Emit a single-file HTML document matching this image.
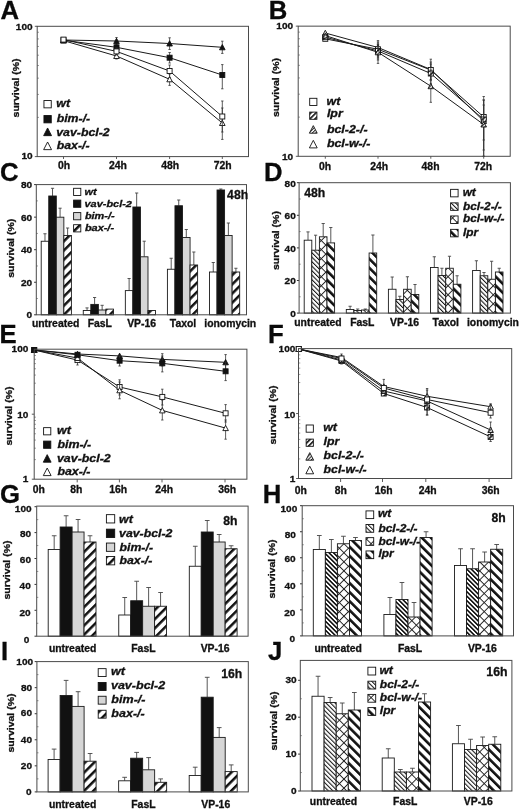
<!DOCTYPE html>
<html><head><meta charset="utf-8"><style>
html,body{margin:0;padding:0;background:#fff;width:520px;height:810px;overflow:hidden}
svg{display:block;filter:grayscale(1)}
text{font-family:"Liberation Sans",sans-serif}
</style></head><body>
<svg width="520" height="810" viewBox="0 0 520 810" font-family="Liberation Sans, sans-serif">

<defs>
<pattern id="baxP" patternUnits="userSpaceOnUse" width="6.5" height="6.5" patternTransform="rotate(45)">
  <rect x="0" y="0" width="6.5" height="6.5" fill="#fff"/><rect x="0" y="0" width="2.5" height="6.5" fill="#111"/></pattern>
<pattern id="lprP" patternUnits="userSpaceOnUse" width="6.4" height="6.4" patternTransform="rotate(-45)">
  <rect x="0" y="0" width="6.4" height="6.4" fill="#fff"/><rect x="0" y="0" width="2.6" height="6.4" fill="#111"/></pattern>
<pattern id="bcl2P" patternUnits="userSpaceOnUse" width="3.18" height="3.18" patternTransform="rotate(-45)">
  <rect x="0" y="0" width="3.18" height="3.18" fill="#fff"/><rect x="0" y="0" width="1.05" height="3.18" fill="#151515"/></pattern>
<pattern id="bcl2H" patternUnits="userSpaceOnUse" width="3.18" height="3.18" patternTransform="rotate(-45)">
  <rect x="0" y="0" width="3.18" height="3.18" fill="#fff"/><rect x="0" y="0" width="1.55" height="3.18" fill="#0a0a0a"/></pattern>
<pattern id="bclwP" patternUnits="userSpaceOnUse" width="6.4" height="6.4" patternTransform="rotate(45)">
  <rect x="0" y="0" width="6.4" height="6.4" fill="#fff"/><rect x="0" y="0" width="0.95" height="6.4" fill="#222"/><rect x="0" y="0" width="6.4" height="0.95" fill="#222"/></pattern>
<pattern id="lprS" patternUnits="userSpaceOnUse" width="3.6" height="3.6" patternTransform="rotate(45)">
  <rect x="0" y="0" width="3.6" height="3.6" fill="#fff"/><rect x="0" y="0" width="1.6" height="3.6" fill="#111"/></pattern>
<pattern id="bcl2S" patternUnits="userSpaceOnUse" width="2.4" height="2.4" patternTransform="rotate(45)">
  <rect x="0" y="0" width="2.4" height="2.4" fill="#fff"/><rect x="0" y="0" width="1.0" height="2.4" fill="#222"/></pattern>
</defs>

<rect width="520" height="810" fill="#fff"/>
<text transform="translate(0.48,18.85)" font-size="25.7" font-weight="bold" font-style="normal" fill="#0a0a0a" stroke="#0a0a0a" stroke-width="0.3">A</text>
<text transform="translate(268.70,18.85)" font-size="25.7" font-weight="bold" font-style="normal" fill="#0a0a0a" stroke="#0a0a0a" stroke-width="0.3">B</text>
<text transform="translate(0.07,181.40)" font-size="25.7" font-weight="bold" font-style="normal" fill="#0a0a0a" stroke="#0a0a0a" stroke-width="0.3">C</text>
<text transform="translate(264.10,180.90)" font-size="25.7" font-weight="bold" font-style="normal" fill="#0a0a0a" stroke="#0a0a0a" stroke-width="0.3">D</text>
<text transform="translate(-0.55,342.70)" font-size="25.7" font-weight="bold" font-style="normal" fill="#0a0a0a" stroke="#0a0a0a" stroke-width="0.3">E</text>
<text transform="translate(268.00,342.90)" font-size="25.7" font-weight="bold" font-style="normal" fill="#0a0a0a" stroke="#0a0a0a" stroke-width="0.3">F</text>
<text transform="translate(0.07,502.90)" font-size="25.7" font-weight="bold" font-style="normal" fill="#0a0a0a" stroke="#0a0a0a" stroke-width="0.3">G</text>
<text transform="translate(262.80,502.90)" font-size="25.7" font-weight="bold" font-style="normal" fill="#0a0a0a" stroke="#0a0a0a" stroke-width="0.3">H</text>
<text transform="translate(1.00,659.70)" font-size="25.7" font-weight="bold" font-style="normal" fill="#0a0a0a" stroke="#0a0a0a" stroke-width="0.3">I</text>
<text transform="translate(267.99,660.20)" font-size="25.7" font-weight="bold" font-style="normal" fill="#0a0a0a" stroke="#0a0a0a" stroke-width="0.3">J</text>
<line x1="34.80" y1="26.30" x2="37.20" y2="26.30" stroke="#4a4a4a" stroke-width="0.9" />
<text transform="translate(15.77,29.57) scale(1.030,1)" font-size="9.8" font-weight="bold" font-style="normal" fill="#111" stroke="#111" stroke-width="0.3">100</text>
<line x1="34.80" y1="156.60" x2="37.20" y2="156.60" stroke="#4a4a4a" stroke-width="0.9" />
<text transform="translate(21.38,159.12) scale(1.030,1)" font-size="9.8" font-weight="bold" font-style="normal" fill="#111" stroke="#111" stroke-width="0.3">10</text>
<line x1="37.20" y1="117.38" x2="39.00" y2="117.38" stroke="#777" stroke-width="0.7" />
<line x1="37.20" y1="94.43" x2="39.00" y2="94.43" stroke="#777" stroke-width="0.7" />
<line x1="37.20" y1="78.15" x2="39.00" y2="78.15" stroke="#777" stroke-width="0.7" />
<line x1="37.20" y1="65.52" x2="39.00" y2="65.52" stroke="#777" stroke-width="0.7" />
<line x1="37.20" y1="55.21" x2="39.00" y2="55.21" stroke="#777" stroke-width="0.7" />
<line x1="37.20" y1="46.48" x2="39.00" y2="46.48" stroke="#777" stroke-width="0.7" />
<line x1="37.20" y1="38.93" x2="39.00" y2="38.93" stroke="#777" stroke-width="0.7" />
<line x1="37.20" y1="32.26" x2="39.00" y2="32.26" stroke="#777" stroke-width="0.7" />
<line x1="63.50" y1="156.60" x2="63.50" y2="159.00" stroke="#4a4a4a" stroke-width="0.9" />
<line x1="116.50" y1="156.60" x2="116.50" y2="159.00" stroke="#4a4a4a" stroke-width="0.9" />
<line x1="169.60" y1="156.60" x2="169.60" y2="159.00" stroke="#4a4a4a" stroke-width="0.9" />
<line x1="222.30" y1="156.60" x2="222.30" y2="159.00" stroke="#4a4a4a" stroke-width="0.9" />
<polyline points="63.50,40.60 116.50,56.00 169.60,79.30 222.30,123.00" fill="none" stroke="#1a1a1a" stroke-width="1.0"/>
<polyline points="63.50,40.00 116.50,41.00 169.60,43.50 222.30,47.30" fill="none" stroke="#1a1a1a" stroke-width="1.0"/>
<polyline points="63.50,40.20 116.50,47.30 169.60,57.70 222.30,75.00" fill="none" stroke="#1a1a1a" stroke-width="1.0"/>
<polyline points="63.50,39.60 116.50,51.40 169.60,71.00 222.30,116.50" fill="none" stroke="#1a1a1a" stroke-width="1.0"/>
<line x1="116.50" y1="52.50" x2="116.50" y2="59.00" stroke="#333" stroke-width="0.8" />
<line x1="115.30" y1="52.50" x2="117.70" y2="52.50" stroke="#333" stroke-width="0.8" />
<line x1="115.30" y1="59.00" x2="117.70" y2="59.00" stroke="#333" stroke-width="0.8" />
<line x1="169.60" y1="74.00" x2="169.60" y2="85.40" stroke="#333" stroke-width="0.8" />
<line x1="168.40" y1="74.00" x2="170.80" y2="74.00" stroke="#333" stroke-width="0.8" />
<line x1="168.40" y1="85.40" x2="170.80" y2="85.40" stroke="#333" stroke-width="0.8" />
<line x1="222.30" y1="108.00" x2="222.30" y2="139.40" stroke="#333" stroke-width="0.8" />
<line x1="221.10" y1="108.00" x2="223.50" y2="108.00" stroke="#333" stroke-width="0.8" />
<line x1="221.10" y1="139.40" x2="223.50" y2="139.40" stroke="#333" stroke-width="0.8" />
<polygon points="63.50,37.85 66.30,43.10 60.70,43.10" fill="#fff" stroke="#111" stroke-width="0.9" stroke-linejoin="miter"/>
<polygon points="116.50,53.25 119.30,58.50 113.70,58.50" fill="#fff" stroke="#111" stroke-width="0.9" stroke-linejoin="miter"/>
<polygon points="169.60,76.55 172.40,81.80 166.80,81.80" fill="#fff" stroke="#111" stroke-width="0.9" stroke-linejoin="miter"/>
<polygon points="222.30,120.25 225.10,125.50 219.50,125.50" fill="#fff" stroke="#111" stroke-width="0.9" stroke-linejoin="miter"/>
<line x1="116.50" y1="37.50" x2="116.50" y2="44.50" stroke="#333" stroke-width="0.8" />
<line x1="115.30" y1="37.50" x2="117.70" y2="37.50" stroke="#333" stroke-width="0.8" />
<line x1="115.30" y1="44.50" x2="117.70" y2="44.50" stroke="#333" stroke-width="0.8" />
<line x1="169.60" y1="37.80" x2="169.60" y2="49.50" stroke="#333" stroke-width="0.8" />
<line x1="168.40" y1="37.80" x2="170.80" y2="37.80" stroke="#333" stroke-width="0.8" />
<line x1="168.40" y1="49.50" x2="170.80" y2="49.50" stroke="#333" stroke-width="0.8" />
<line x1="222.30" y1="41.20" x2="222.30" y2="53.40" stroke="#333" stroke-width="0.8" />
<line x1="221.10" y1="41.20" x2="223.50" y2="41.20" stroke="#333" stroke-width="0.8" />
<line x1="221.10" y1="53.40" x2="223.50" y2="53.40" stroke="#333" stroke-width="0.8" />
<polygon points="63.50,37.25 66.30,42.50 60.70,42.50" fill="#111" stroke="#111" stroke-width="0.9" stroke-linejoin="miter"/>
<polygon points="116.50,38.25 119.30,43.50 113.70,43.50" fill="#111" stroke="#111" stroke-width="0.9" stroke-linejoin="miter"/>
<polygon points="169.60,40.75 172.40,46.00 166.80,46.00" fill="#111" stroke="#111" stroke-width="0.9" stroke-linejoin="miter"/>
<polygon points="222.30,44.55 225.10,49.80 219.50,49.80" fill="#111" stroke="#111" stroke-width="0.9" stroke-linejoin="miter"/>
<line x1="169.60" y1="52.50" x2="169.60" y2="63.00" stroke="#333" stroke-width="0.8" />
<line x1="168.40" y1="52.50" x2="170.80" y2="52.50" stroke="#333" stroke-width="0.8" />
<line x1="168.40" y1="63.00" x2="170.80" y2="63.00" stroke="#333" stroke-width="0.8" />
<line x1="222.30" y1="64.60" x2="222.30" y2="88.80" stroke="#333" stroke-width="0.8" />
<line x1="221.10" y1="64.60" x2="223.50" y2="64.60" stroke="#333" stroke-width="0.8" />
<line x1="221.10" y1="88.80" x2="223.50" y2="88.80" stroke="#333" stroke-width="0.8" />
<rect x="61.00" y="37.70" width="5.00" height="5.00" fill="#111" stroke="#111" stroke-width="0.9"/>
<rect x="114.00" y="44.80" width="5.00" height="5.00" fill="#111" stroke="#111" stroke-width="0.9"/>
<rect x="167.10" y="55.20" width="5.00" height="5.00" fill="#111" stroke="#111" stroke-width="0.9"/>
<rect x="219.80" y="72.50" width="5.00" height="5.00" fill="#111" stroke="#111" stroke-width="0.9"/>
<line x1="116.50" y1="48.00" x2="116.50" y2="55.00" stroke="#333" stroke-width="0.8" />
<line x1="115.30" y1="48.00" x2="117.70" y2="48.00" stroke="#333" stroke-width="0.8" />
<line x1="115.30" y1="55.00" x2="117.70" y2="55.00" stroke="#333" stroke-width="0.8" />
<line x1="169.60" y1="65.00" x2="169.60" y2="77.50" stroke="#333" stroke-width="0.8" />
<line x1="168.40" y1="65.00" x2="170.80" y2="65.00" stroke="#333" stroke-width="0.8" />
<line x1="168.40" y1="77.50" x2="170.80" y2="77.50" stroke="#333" stroke-width="0.8" />
<line x1="222.30" y1="101.00" x2="222.30" y2="132.00" stroke="#333" stroke-width="0.8" />
<line x1="221.10" y1="101.00" x2="223.50" y2="101.00" stroke="#333" stroke-width="0.8" />
<line x1="221.10" y1="132.00" x2="223.50" y2="132.00" stroke="#333" stroke-width="0.8" />
<rect x="61.00" y="37.10" width="5.00" height="5.00" fill="#fff" stroke="#111" stroke-width="0.9"/>
<rect x="114.00" y="48.90" width="5.00" height="5.00" fill="#fff" stroke="#111" stroke-width="0.9"/>
<rect x="167.10" y="68.50" width="5.00" height="5.00" fill="#fff" stroke="#111" stroke-width="0.9"/>
<rect x="219.80" y="114.00" width="5.00" height="5.00" fill="#fff" stroke="#111" stroke-width="0.9"/>
<rect x="37.20" y="26.30" width="211.30" height="130.30" fill="none" stroke="#4a4a4a" stroke-width="1.0"/>
<text transform="translate(57.90,169.30) scale(1.040,1)" font-size="10.0" font-weight="bold" font-style="normal" fill="#111" stroke="#111" stroke-width="0.3">0h</text>
<text transform="translate(108.89,169.30) scale(1.040,1)" font-size="10.0" font-weight="bold" font-style="normal" fill="#111" stroke="#111" stroke-width="0.3">24h</text>
<text transform="translate(161.28,169.30) scale(1.040,1)" font-size="10.0" font-weight="bold" font-style="normal" fill="#111" stroke="#111" stroke-width="0.3">48h</text>
<text transform="translate(213.65,169.30) scale(1.040,1)" font-size="10.0" font-weight="bold" font-style="normal" fill="#111" stroke="#111" stroke-width="0.3">72h</text>
<text transform="translate(18.87,117.43) rotate(-90) scale(1.170,1)" font-size="9.0" font-weight="bold" fill="#111" stroke="#111" stroke-width="0.3">survival (%)</text>
<rect x="43.95" y="100.55" width="7.30" height="7.30" fill="#fff" stroke="#111" stroke-width="0.9"/>
<text transform="translate(56.31,107.40) scale(1.140,1)" font-size="10.8" font-weight="bold" font-style="italic" fill="#111" stroke="#111" stroke-width="0.3">wt</text>
<rect x="43.95" y="115.55" width="7.30" height="7.30" fill="#111" stroke="#111" stroke-width="0.9"/>
<text transform="translate(56.68,121.50) scale(1.140,1)" font-size="10.8" font-weight="bold" font-style="italic" fill="#111" stroke="#111" stroke-width="0.3">bim-/-</text>
<polygon points="47.60,127.98 51.55,135.65 43.65,135.65" fill="#111" stroke="#111" stroke-width="0.9" stroke-linejoin="miter"/>
<text transform="translate(56.24,135.60) scale(1.140,1)" font-size="10.8" font-weight="bold" font-style="italic" fill="#111" stroke="#111" stroke-width="0.3">vav-bcl-2</text>
<polygon points="47.60,141.99 51.55,149.65 43.65,149.65" fill="#fff" stroke="#111" stroke-width="0.9" stroke-linejoin="miter"/>
<text transform="translate(56.68,149.30) scale(1.140,1)" font-size="10.8" font-weight="bold" font-style="italic" fill="#111" stroke="#111" stroke-width="0.3">bax-/-</text>
<line x1="295.80" y1="26.15" x2="298.20" y2="26.15" stroke="#4a4a4a" stroke-width="0.9" />
<text transform="translate(276.27,29.32) scale(1.030,1)" font-size="9.8" font-weight="bold" font-style="normal" fill="#111" stroke="#111" stroke-width="0.3">100</text>
<line x1="295.80" y1="156.30" x2="298.20" y2="156.30" stroke="#4a4a4a" stroke-width="0.9" />
<text transform="translate(281.88,159.67) scale(1.030,1)" font-size="9.8" font-weight="bold" font-style="normal" fill="#111" stroke="#111" stroke-width="0.3">10</text>
<line x1="298.20" y1="117.12" x2="300.00" y2="117.12" stroke="#777" stroke-width="0.7" />
<line x1="298.20" y1="94.20" x2="300.00" y2="94.20" stroke="#777" stroke-width="0.7" />
<line x1="298.20" y1="77.94" x2="300.00" y2="77.94" stroke="#777" stroke-width="0.7" />
<line x1="298.20" y1="65.33" x2="300.00" y2="65.33" stroke="#777" stroke-width="0.7" />
<line x1="298.20" y1="55.02" x2="300.00" y2="55.02" stroke="#777" stroke-width="0.7" />
<line x1="298.20" y1="46.31" x2="300.00" y2="46.31" stroke="#777" stroke-width="0.7" />
<line x1="298.20" y1="38.76" x2="300.00" y2="38.76" stroke="#777" stroke-width="0.7" />
<line x1="298.20" y1="32.11" x2="300.00" y2="32.11" stroke="#777" stroke-width="0.7" />
<line x1="325.30" y1="156.30" x2="325.30" y2="158.70" stroke="#4a4a4a" stroke-width="0.9" />
<line x1="378.00" y1="156.30" x2="378.00" y2="158.70" stroke="#4a4a4a" stroke-width="0.9" />
<line x1="430.80" y1="156.30" x2="430.80" y2="158.70" stroke="#4a4a4a" stroke-width="0.9" />
<line x1="483.70" y1="156.30" x2="483.70" y2="158.70" stroke="#4a4a4a" stroke-width="0.9" />
<polyline points="325.30,33.00 378.00,47.50 430.80,69.50 483.70,121.00" fill="none" stroke="#1a1a1a" stroke-width="1.0"/>
<polyline points="325.30,38.80 378.00,49.30 430.80,70.00 483.70,117.00" fill="none" stroke="#1a1a1a" stroke-width="1.0"/>
<polyline points="325.30,37.20 378.00,51.00 430.80,73.50 483.70,119.50" fill="none" stroke="#1a1a1a" stroke-width="1.0"/>
<polyline points="325.30,35.60 378.00,52.30 430.80,86.20 483.70,124.50" fill="none" stroke="#1a1a1a" stroke-width="1.0"/>
<line x1="378.00" y1="40.60" x2="378.00" y2="56.00" stroke="#333" stroke-width="0.8" />
<line x1="376.80" y1="40.60" x2="379.20" y2="40.60" stroke="#333" stroke-width="0.8" />
<line x1="376.80" y1="56.00" x2="379.20" y2="56.00" stroke="#333" stroke-width="0.8" />
<line x1="430.80" y1="59.20" x2="430.80" y2="80.00" stroke="#333" stroke-width="0.8" />
<line x1="429.60" y1="59.20" x2="432.00" y2="59.20" stroke="#333" stroke-width="0.8" />
<line x1="429.60" y1="80.00" x2="432.00" y2="80.00" stroke="#333" stroke-width="0.8" />
<line x1="483.70" y1="96.50" x2="483.70" y2="140.00" stroke="#333" stroke-width="0.8" />
<line x1="482.50" y1="96.50" x2="484.90" y2="96.50" stroke="#333" stroke-width="0.8" />
<line x1="482.50" y1="140.00" x2="484.90" y2="140.00" stroke="#333" stroke-width="0.8" />
<polygon points="325.30,30.25 328.10,35.50 322.50,35.50" fill="#fff" stroke="#111" stroke-width="0.9" stroke-linejoin="miter"/>
<polygon points="378.00,44.75 380.80,50.00 375.20,50.00" fill="#fff" stroke="#111" stroke-width="0.9" stroke-linejoin="miter"/>
<polygon points="430.80,66.75 433.60,72.00 428.00,72.00" fill="#fff" stroke="#111" stroke-width="0.9" stroke-linejoin="miter"/>
<polygon points="483.70,118.25 486.50,123.50 480.90,123.50" fill="#fff" stroke="#111" stroke-width="0.9" stroke-linejoin="miter"/>
<line x1="378.00" y1="42.00" x2="378.00" y2="58.00" stroke="#333" stroke-width="0.8" />
<line x1="376.80" y1="42.00" x2="379.20" y2="42.00" stroke="#333" stroke-width="0.8" />
<line x1="376.80" y1="58.00" x2="379.20" y2="58.00" stroke="#333" stroke-width="0.8" />
<line x1="430.80" y1="62.00" x2="430.80" y2="80.00" stroke="#333" stroke-width="0.8" />
<line x1="429.60" y1="62.00" x2="432.00" y2="62.00" stroke="#333" stroke-width="0.8" />
<line x1="429.60" y1="80.00" x2="432.00" y2="80.00" stroke="#333" stroke-width="0.8" />
<line x1="483.70" y1="100.00" x2="483.70" y2="150.00" stroke="#333" stroke-width="0.8" />
<line x1="482.50" y1="100.00" x2="484.90" y2="100.00" stroke="#333" stroke-width="0.8" />
<line x1="482.50" y1="150.00" x2="484.90" y2="150.00" stroke="#333" stroke-width="0.8" />
<rect x="322.80" y="36.30" width="5.00" height="5.00" fill="#fff" stroke="#111" stroke-width="0.9"/>
<rect x="375.50" y="46.80" width="5.00" height="5.00" fill="#fff" stroke="#111" stroke-width="0.9"/>
<rect x="428.30" y="67.50" width="5.00" height="5.00" fill="#fff" stroke="#111" stroke-width="0.9"/>
<rect x="481.20" y="114.50" width="5.00" height="5.00" fill="#fff" stroke="#111" stroke-width="0.9"/>
<line x1="378.00" y1="44.00" x2="378.00" y2="60.00" stroke="#333" stroke-width="0.8" />
<line x1="376.80" y1="44.00" x2="379.20" y2="44.00" stroke="#333" stroke-width="0.8" />
<line x1="376.80" y1="60.00" x2="379.20" y2="60.00" stroke="#333" stroke-width="0.8" />
<line x1="430.80" y1="64.00" x2="430.80" y2="84.00" stroke="#333" stroke-width="0.8" />
<line x1="429.60" y1="64.00" x2="432.00" y2="64.00" stroke="#333" stroke-width="0.8" />
<line x1="429.60" y1="84.00" x2="432.00" y2="84.00" stroke="#333" stroke-width="0.8" />
<line x1="483.70" y1="105.00" x2="483.70" y2="156.30" stroke="#333" stroke-width="0.8" />
<line x1="482.50" y1="105.00" x2="484.90" y2="105.00" stroke="#333" stroke-width="0.8" />
<line x1="482.50" y1="156.30" x2="484.90" y2="156.30" stroke="#333" stroke-width="0.8" />
<rect x="322.80" y="34.70" width="5.00" height="5.00" fill="url(#lprS)" stroke="#111" stroke-width="0.9"/>
<rect x="375.50" y="48.50" width="5.00" height="5.00" fill="url(#lprS)" stroke="#111" stroke-width="0.9"/>
<rect x="428.30" y="71.00" width="5.00" height="5.00" fill="url(#lprS)" stroke="#111" stroke-width="0.9"/>
<rect x="481.20" y="117.00" width="5.00" height="5.00" fill="url(#lprS)" stroke="#111" stroke-width="0.9"/>
<line x1="378.00" y1="45.00" x2="378.00" y2="63.40" stroke="#333" stroke-width="0.8" />
<line x1="376.80" y1="45.00" x2="379.20" y2="45.00" stroke="#333" stroke-width="0.8" />
<line x1="376.80" y1="63.40" x2="379.20" y2="63.40" stroke="#333" stroke-width="0.8" />
<line x1="430.80" y1="70.00" x2="430.80" y2="102.30" stroke="#333" stroke-width="0.8" />
<line x1="429.60" y1="70.00" x2="432.00" y2="70.00" stroke="#333" stroke-width="0.8" />
<line x1="429.60" y1="102.30" x2="432.00" y2="102.30" stroke="#333" stroke-width="0.8" />
<line x1="483.70" y1="100.00" x2="483.70" y2="156.30" stroke="#333" stroke-width="0.8" />
<line x1="482.50" y1="100.00" x2="484.90" y2="100.00" stroke="#333" stroke-width="0.8" />
<line x1="482.50" y1="156.30" x2="484.90" y2="156.30" stroke="#333" stroke-width="0.8" />
<polygon points="325.30,32.85 328.10,38.10 322.50,38.10" fill="url(#bcl2S)" stroke="#111" stroke-width="0.9" stroke-linejoin="miter"/>
<polygon points="378.00,49.55 380.80,54.80 375.20,54.80" fill="url(#bcl2S)" stroke="#111" stroke-width="0.9" stroke-linejoin="miter"/>
<polygon points="430.80,83.45 433.60,88.70 428.00,88.70" fill="url(#bcl2S)" stroke="#111" stroke-width="0.9" stroke-linejoin="miter"/>
<polygon points="483.70,121.75 486.50,127.00 480.90,127.00" fill="url(#bcl2S)" stroke="#111" stroke-width="0.9" stroke-linejoin="miter"/>
<rect x="298.20" y="26.15" width="212.00" height="130.15" fill="none" stroke="#4a4a4a" stroke-width="1.0"/>
<text transform="translate(319.05,169.60) scale(1.040,1)" font-size="10.0" font-weight="bold" font-style="normal" fill="#111" stroke="#111" stroke-width="0.3">0h</text>
<text transform="translate(370.19,169.60) scale(1.040,1)" font-size="10.0" font-weight="bold" font-style="normal" fill="#111" stroke="#111" stroke-width="0.3">24h</text>
<text transform="translate(421.58,169.60) scale(1.040,1)" font-size="10.0" font-weight="bold" font-style="normal" fill="#111" stroke="#111" stroke-width="0.3">48h</text>
<text transform="translate(474.15,169.60) scale(1.040,1)" font-size="10.0" font-weight="bold" font-style="normal" fill="#111" stroke="#111" stroke-width="0.3">72h</text>
<text transform="translate(278.57,116.98) rotate(-90) scale(1.170,1)" font-size="9.0" font-weight="bold" fill="#111" stroke="#111" stroke-width="0.3">survival (%)</text>
<rect x="309.70" y="98.30" width="7.20" height="7.20" fill="#fff" stroke="#111" stroke-width="0.9"/>
<text transform="translate(326.50,104.50) scale(1.140,1)" font-size="10.9" font-weight="bold" font-style="italic" fill="#111" stroke="#111" stroke-width="0.3">wt</text>
<rect x="309.70" y="112.10" width="7.20" height="7.20" fill="url(#lprS)" stroke="#111" stroke-width="0.9"/>
<text transform="translate(326.88,117.30) scale(1.140,1)" font-size="10.9" font-weight="bold" font-style="italic" fill="#111" stroke="#111" stroke-width="0.3">lpr</text>
<polygon points="313.30,125.64 317.20,133.20 309.40,133.20" fill="url(#bcl2S)" stroke="#111" stroke-width="0.9" stroke-linejoin="miter"/>
<text transform="translate(326.88,133.00) scale(1.140,1)" font-size="10.9" font-weight="bold" font-style="italic" fill="#111" stroke="#111" stroke-width="0.3">bcl-2-/-</text>
<polygon points="313.30,140.34 317.20,147.90 309.40,147.90" fill="#fff" stroke="#111" stroke-width="0.9" stroke-linejoin="miter"/>
<text transform="translate(326.88,147.40) scale(1.140,1)" font-size="10.9" font-weight="bold" font-style="italic" fill="#111" stroke="#111" stroke-width="0.3">bcl-w-/-</text>
<line x1="34.10" y1="184.60" x2="36.30" y2="184.60" stroke="#333" stroke-width="1.0" />
<text transform="translate(20.98,187.97) scale(1.030,1)" font-size="9.8" font-weight="bold" font-style="normal" fill="#111" stroke="#111" stroke-width="0.3">80</text>
<line x1="34.10" y1="217.15" x2="36.30" y2="217.15" stroke="#333" stroke-width="1.0" />
<text transform="translate(20.98,220.52) scale(1.030,1)" font-size="9.8" font-weight="bold" font-style="normal" fill="#111" stroke="#111" stroke-width="0.3">60</text>
<line x1="34.10" y1="249.70" x2="36.30" y2="249.70" stroke="#333" stroke-width="1.0" />
<text transform="translate(20.98,253.07) scale(1.030,1)" font-size="9.8" font-weight="bold" font-style="normal" fill="#111" stroke="#111" stroke-width="0.3">40</text>
<line x1="34.10" y1="282.25" x2="36.30" y2="282.25" stroke="#333" stroke-width="1.0" />
<text transform="translate(20.98,285.62) scale(1.030,1)" font-size="9.8" font-weight="bold" font-style="normal" fill="#111" stroke="#111" stroke-width="0.3">20</text>
<line x1="34.10" y1="314.80" x2="36.30" y2="314.80" stroke="#333" stroke-width="1.0" />
<text transform="translate(26.59,318.17) scale(1.030,1)" font-size="9.8" font-weight="bold" font-style="normal" fill="#111" stroke="#111" stroke-width="0.3">0</text>
<line x1="36.30" y1="298.53" x2="37.90" y2="298.53" stroke="#666" stroke-width="0.7" />
<line x1="36.30" y1="265.98" x2="37.90" y2="265.98" stroke="#666" stroke-width="0.7" />
<line x1="36.30" y1="233.43" x2="37.90" y2="233.43" stroke="#666" stroke-width="0.7" />
<line x1="36.30" y1="200.88" x2="37.90" y2="200.88" stroke="#666" stroke-width="0.7" />
<line x1="44.98" y1="233.75" x2="44.98" y2="241.25" stroke="#444" stroke-width="0.9" />
<line x1="43.39" y1="233.75" x2="46.56" y2="233.75" stroke="#444" stroke-width="0.9" />
<rect x="41.20" y="241.25" width="7.55" height="73.55" fill="#fff" stroke="#1a1a1a" stroke-width="0.9"/>
<line x1="52.52" y1="188.30" x2="52.52" y2="196.00" stroke="#444" stroke-width="0.9" />
<line x1="50.94" y1="188.30" x2="54.11" y2="188.30" stroke="#444" stroke-width="0.9" />
<rect x="48.75" y="196.00" width="7.55" height="118.80" fill="#111" stroke="#1a1a1a" stroke-width="0.9"/>
<line x1="60.08" y1="208.20" x2="60.08" y2="217.20" stroke="#444" stroke-width="0.9" />
<line x1="58.49" y1="208.20" x2="61.66" y2="208.20" stroke="#444" stroke-width="0.9" />
<rect x="56.30" y="217.20" width="7.55" height="97.60" fill="#d6d6d6" stroke="#1a1a1a" stroke-width="0.9"/>
<line x1="67.62" y1="228.00" x2="67.62" y2="235.50" stroke="#444" stroke-width="0.9" />
<line x1="66.04" y1="228.00" x2="69.21" y2="228.00" stroke="#444" stroke-width="0.9" />
<rect x="63.85" y="235.50" width="7.55" height="79.30" fill="url(#baxP)" stroke="#1a1a1a" stroke-width="0.9"/>
<line x1="87.05" y1="307.90" x2="87.05" y2="310.50" stroke="#444" stroke-width="0.9" />
<line x1="85.46" y1="307.90" x2="88.63" y2="307.90" stroke="#444" stroke-width="0.9" />
<rect x="83.27" y="310.50" width="7.55" height="4.30" fill="#fff" stroke="#1a1a1a" stroke-width="0.9"/>
<line x1="94.60" y1="297.50" x2="94.60" y2="304.40" stroke="#444" stroke-width="0.9" />
<line x1="93.01" y1="297.50" x2="96.18" y2="297.50" stroke="#444" stroke-width="0.9" />
<rect x="90.82" y="304.40" width="7.55" height="10.40" fill="#111" stroke="#1a1a1a" stroke-width="0.9"/>
<line x1="102.15" y1="305.30" x2="102.15" y2="310.00" stroke="#444" stroke-width="0.9" />
<line x1="100.56" y1="305.30" x2="103.73" y2="305.30" stroke="#444" stroke-width="0.9" />
<rect x="98.37" y="310.00" width="7.55" height="4.80" fill="#d6d6d6" stroke="#1a1a1a" stroke-width="0.9"/>
<rect x="105.92" y="309.10" width="7.55" height="5.70" fill="url(#baxP)" stroke="#1a1a1a" stroke-width="0.9"/>
<line x1="129.12" y1="278.50" x2="129.12" y2="290.60" stroke="#444" stroke-width="0.9" />
<line x1="127.53" y1="278.50" x2="130.70" y2="278.50" stroke="#444" stroke-width="0.9" />
<rect x="125.34" y="290.60" width="7.55" height="24.20" fill="#fff" stroke="#1a1a1a" stroke-width="0.9"/>
<line x1="136.67" y1="193.00" x2="136.67" y2="207.00" stroke="#444" stroke-width="0.9" />
<line x1="135.08" y1="193.00" x2="138.25" y2="193.00" stroke="#444" stroke-width="0.9" />
<rect x="132.89" y="207.00" width="7.55" height="107.80" fill="#111" stroke="#1a1a1a" stroke-width="0.9"/>
<line x1="144.22" y1="241.20" x2="144.22" y2="256.80" stroke="#444" stroke-width="0.9" />
<line x1="142.63" y1="241.20" x2="145.80" y2="241.20" stroke="#444" stroke-width="0.9" />
<rect x="140.44" y="256.80" width="7.55" height="58.00" fill="#d6d6d6" stroke="#1a1a1a" stroke-width="0.9"/>
<rect x="147.99" y="310.50" width="7.55" height="4.30" fill="url(#baxP)" stroke="#1a1a1a" stroke-width="0.9"/>
<line x1="171.19" y1="258.25" x2="171.19" y2="269.25" stroke="#444" stroke-width="0.9" />
<line x1="169.60" y1="258.25" x2="172.77" y2="258.25" stroke="#444" stroke-width="0.9" />
<rect x="167.41" y="269.25" width="7.55" height="45.55" fill="#fff" stroke="#1a1a1a" stroke-width="0.9"/>
<line x1="178.74" y1="200.00" x2="178.74" y2="205.75" stroke="#444" stroke-width="0.9" />
<line x1="177.15" y1="200.00" x2="180.32" y2="200.00" stroke="#444" stroke-width="0.9" />
<rect x="174.96" y="205.75" width="7.55" height="109.05" fill="#111" stroke="#1a1a1a" stroke-width="0.9"/>
<line x1="186.29" y1="229.50" x2="186.29" y2="237.50" stroke="#444" stroke-width="0.9" />
<line x1="184.70" y1="229.50" x2="187.87" y2="229.50" stroke="#444" stroke-width="0.9" />
<rect x="182.51" y="237.50" width="7.55" height="77.30" fill="#d6d6d6" stroke="#1a1a1a" stroke-width="0.9"/>
<line x1="193.84" y1="252.00" x2="193.84" y2="265.00" stroke="#444" stroke-width="0.9" />
<line x1="192.25" y1="252.00" x2="195.42" y2="252.00" stroke="#444" stroke-width="0.9" />
<rect x="190.06" y="265.00" width="7.55" height="49.80" fill="url(#baxP)" stroke="#1a1a1a" stroke-width="0.9"/>
<line x1="213.26" y1="262.50" x2="213.26" y2="272.00" stroke="#444" stroke-width="0.9" />
<line x1="211.67" y1="262.50" x2="214.84" y2="262.50" stroke="#444" stroke-width="0.9" />
<rect x="209.48" y="272.00" width="7.55" height="42.80" fill="#fff" stroke="#1a1a1a" stroke-width="0.9"/>
<line x1="220.81" y1="189.00" x2="220.81" y2="190.00" stroke="#444" stroke-width="0.9" />
<line x1="219.22" y1="189.00" x2="222.39" y2="189.00" stroke="#444" stroke-width="0.9" />
<rect x="217.03" y="190.00" width="7.55" height="124.80" fill="#111" stroke="#1a1a1a" stroke-width="0.9"/>
<line x1="228.36" y1="223.00" x2="228.36" y2="235.50" stroke="#444" stroke-width="0.9" />
<line x1="226.77" y1="223.00" x2="229.94" y2="223.00" stroke="#444" stroke-width="0.9" />
<rect x="224.58" y="235.50" width="7.55" height="79.30" fill="#d6d6d6" stroke="#1a1a1a" stroke-width="0.9"/>
<line x1="235.91" y1="268.25" x2="235.91" y2="272.00" stroke="#444" stroke-width="0.9" />
<line x1="234.32" y1="268.25" x2="237.49" y2="268.25" stroke="#444" stroke-width="0.9" />
<rect x="232.13" y="272.00" width="7.55" height="42.80" fill="url(#baxP)" stroke="#1a1a1a" stroke-width="0.9"/>
<rect x="36.30" y="184.60" width="210.20" height="130.20" fill="none" stroke="#4a4a4a" stroke-width="1.0"/>
<text transform="translate(31.93,327.20) scale(1.040,1)" font-size="10.0" font-weight="bold" font-style="normal" fill="#111" stroke="#111" stroke-width="0.3">untreated</text>
<text transform="translate(87.68,327.20) scale(1.040,1)" font-size="10.0" font-weight="bold" font-style="normal" fill="#111" stroke="#111" stroke-width="0.3">FasL</text>
<text transform="translate(127.19,327.20) scale(1.040,1)" font-size="10.0" font-weight="bold" font-style="normal" fill="#111" stroke="#111" stroke-width="0.3">VP-16</text>
<text transform="translate(169.85,327.20) scale(1.040,1)" font-size="10.0" font-weight="bold" font-style="normal" fill="#111" stroke="#111" stroke-width="0.3">Taxol</text>
<text transform="translate(204.26,327.20) scale(1.040,1)" font-size="10.0" font-weight="bold" font-style="normal" fill="#111" stroke="#111" stroke-width="0.3">ionomycin</text>
<text transform="translate(13.92,277.78) rotate(-90) scale(1.170,1)" font-size="9.0" font-weight="bold" fill="#111" stroke="#111" stroke-width="0.3">survival (%)</text>
<text transform="translate(227.10,198.70)" font-size="12.2" font-weight="bold" font-style="normal" fill="#111" stroke="#111" stroke-width="0.3">48h</text>
<rect x="73.60" y="188.30" width="7.20" height="7.20" fill="#fff" stroke="#111" stroke-width="0.9"/>
<text transform="translate(84.57,194.80) scale(1.140,1)" font-size="9.6" font-weight="bold" font-style="italic" fill="#111" stroke="#111" stroke-width="0.3">wt</text>
<rect x="73.60" y="200.10" width="7.20" height="7.20" fill="#111" stroke="#111" stroke-width="0.9"/>
<text transform="translate(84.51,206.60) scale(1.140,1)" font-size="9.6" font-weight="bold" font-style="italic" fill="#111" stroke="#111" stroke-width="0.3">vav-bcl-2</text>
<rect x="73.60" y="212.60" width="7.20" height="7.20" fill="#d6d6d6" stroke="#111" stroke-width="0.9"/>
<text transform="translate(84.90,218.70) scale(1.140,1)" font-size="9.6" font-weight="bold" font-style="italic" fill="#111" stroke="#111" stroke-width="0.3">bim-/-</text>
<rect x="73.60" y="224.70" width="7.20" height="7.20" fill="url(#baxP)" stroke="#111" stroke-width="0.9"/>
<text transform="translate(84.90,230.80) scale(1.140,1)" font-size="9.6" font-weight="bold" font-style="italic" fill="#111" stroke="#111" stroke-width="0.3">bax-/-</text>
<line x1="296.90" y1="182.70" x2="299.10" y2="182.70" stroke="#333" stroke-width="1.0" />
<text transform="translate(284.58,186.57) scale(1.030,1)" font-size="9.8" font-weight="bold" font-style="normal" fill="#111" stroke="#111" stroke-width="0.3">80</text>
<line x1="296.90" y1="215.30" x2="299.10" y2="215.30" stroke="#333" stroke-width="1.0" />
<text transform="translate(284.58,219.17) scale(1.030,1)" font-size="9.8" font-weight="bold" font-style="normal" fill="#111" stroke="#111" stroke-width="0.3">60</text>
<line x1="296.90" y1="247.90" x2="299.10" y2="247.90" stroke="#333" stroke-width="1.0" />
<text transform="translate(284.58,251.57) scale(1.030,1)" font-size="9.8" font-weight="bold" font-style="normal" fill="#111" stroke="#111" stroke-width="0.3">40</text>
<line x1="296.90" y1="280.50" x2="299.10" y2="280.50" stroke="#333" stroke-width="1.0" />
<text transform="translate(284.58,284.17) scale(1.030,1)" font-size="9.8" font-weight="bold" font-style="normal" fill="#111" stroke="#111" stroke-width="0.3">20</text>
<line x1="296.90" y1="313.10" x2="299.10" y2="313.10" stroke="#333" stroke-width="1.0" />
<text transform="translate(290.19,316.97) scale(1.030,1)" font-size="9.8" font-weight="bold" font-style="normal" fill="#111" stroke="#111" stroke-width="0.3">0</text>
<line x1="299.10" y1="296.80" x2="300.70" y2="296.80" stroke="#666" stroke-width="0.7" />
<line x1="299.10" y1="264.20" x2="300.70" y2="264.20" stroke="#666" stroke-width="0.7" />
<line x1="299.10" y1="231.60" x2="300.70" y2="231.60" stroke="#666" stroke-width="0.7" />
<line x1="299.10" y1="199.00" x2="300.70" y2="199.00" stroke="#666" stroke-width="0.7" />
<line x1="308.00" y1="231.90" x2="308.00" y2="240.20" stroke="#444" stroke-width="0.9" />
<line x1="306.40" y1="231.90" x2="309.60" y2="231.90" stroke="#444" stroke-width="0.9" />
<rect x="304.20" y="240.20" width="7.60" height="72.90" fill="#fff" stroke="#1a1a1a" stroke-width="0.9"/>
<line x1="315.60" y1="235.20" x2="315.60" y2="250.20" stroke="#444" stroke-width="0.9" />
<line x1="314.00" y1="235.20" x2="317.20" y2="235.20" stroke="#444" stroke-width="0.9" />
<rect x="311.80" y="250.20" width="7.60" height="62.90" fill="url(#bcl2P)" stroke="#1a1a1a" stroke-width="0.9"/>
<line x1="323.20" y1="223.50" x2="323.20" y2="236.80" stroke="#444" stroke-width="0.9" />
<line x1="321.60" y1="223.50" x2="324.80" y2="223.50" stroke="#444" stroke-width="0.9" />
<rect x="319.40" y="236.80" width="7.60" height="76.30" fill="url(#bclwP)" stroke="#1a1a1a" stroke-width="0.9"/>
<line x1="330.80" y1="227.50" x2="330.80" y2="242.90" stroke="#444" stroke-width="0.9" />
<line x1="329.20" y1="227.50" x2="332.40" y2="227.50" stroke="#444" stroke-width="0.9" />
<rect x="327.00" y="242.90" width="7.60" height="70.20" fill="url(#lprP)" stroke="#1a1a1a" stroke-width="0.9"/>
<line x1="350.10" y1="306.25" x2="350.10" y2="309.50" stroke="#444" stroke-width="0.9" />
<line x1="348.50" y1="306.25" x2="351.70" y2="306.25" stroke="#444" stroke-width="0.9" />
<rect x="346.30" y="309.50" width="7.60" height="3.60" fill="#fff" stroke="#1a1a1a" stroke-width="0.9"/>
<line x1="357.70" y1="309.00" x2="357.70" y2="310.50" stroke="#444" stroke-width="0.9" />
<line x1="356.10" y1="309.00" x2="359.30" y2="309.00" stroke="#444" stroke-width="0.9" />
<rect x="353.90" y="310.50" width="7.60" height="2.60" fill="url(#bcl2P)" stroke="#1a1a1a" stroke-width="0.9"/>
<line x1="365.30" y1="309.00" x2="365.30" y2="310.00" stroke="#444" stroke-width="0.9" />
<line x1="363.70" y1="309.00" x2="366.90" y2="309.00" stroke="#444" stroke-width="0.9" />
<rect x="361.50" y="310.00" width="7.60" height="3.10" fill="url(#bclwP)" stroke="#1a1a1a" stroke-width="0.9"/>
<line x1="372.90" y1="235.00" x2="372.90" y2="253.00" stroke="#444" stroke-width="0.9" />
<line x1="371.30" y1="235.00" x2="374.50" y2="235.00" stroke="#444" stroke-width="0.9" />
<rect x="369.10" y="253.00" width="7.60" height="60.10" fill="url(#lprP)" stroke="#1a1a1a" stroke-width="0.9"/>
<line x1="392.20" y1="277.00" x2="392.20" y2="289.25" stroke="#444" stroke-width="0.9" />
<line x1="390.60" y1="277.00" x2="393.80" y2="277.00" stroke="#444" stroke-width="0.9" />
<rect x="388.40" y="289.25" width="7.60" height="23.85" fill="#fff" stroke="#1a1a1a" stroke-width="0.9"/>
<line x1="399.80" y1="296.25" x2="399.80" y2="299.50" stroke="#444" stroke-width="0.9" />
<line x1="398.20" y1="296.25" x2="401.40" y2="296.25" stroke="#444" stroke-width="0.9" />
<rect x="396.00" y="299.50" width="7.60" height="13.60" fill="url(#bcl2P)" stroke="#1a1a1a" stroke-width="0.9"/>
<line x1="407.40" y1="276.75" x2="407.40" y2="289.25" stroke="#444" stroke-width="0.9" />
<line x1="405.80" y1="276.75" x2="409.00" y2="276.75" stroke="#444" stroke-width="0.9" />
<rect x="403.60" y="289.25" width="7.60" height="23.85" fill="url(#bclwP)" stroke="#1a1a1a" stroke-width="0.9"/>
<line x1="415.00" y1="284.50" x2="415.00" y2="294.50" stroke="#444" stroke-width="0.9" />
<line x1="413.40" y1="284.50" x2="416.60" y2="284.50" stroke="#444" stroke-width="0.9" />
<rect x="411.20" y="294.50" width="7.60" height="18.60" fill="url(#lprP)" stroke="#1a1a1a" stroke-width="0.9"/>
<line x1="434.30" y1="256.75" x2="434.30" y2="267.50" stroke="#444" stroke-width="0.9" />
<line x1="432.70" y1="256.75" x2="435.90" y2="256.75" stroke="#444" stroke-width="0.9" />
<rect x="430.50" y="267.50" width="7.60" height="45.60" fill="#fff" stroke="#1a1a1a" stroke-width="0.9"/>
<line x1="441.90" y1="268.25" x2="441.90" y2="275.50" stroke="#444" stroke-width="0.9" />
<line x1="440.30" y1="268.25" x2="443.50" y2="268.25" stroke="#444" stroke-width="0.9" />
<rect x="438.10" y="275.50" width="7.60" height="37.60" fill="url(#bcl2P)" stroke="#1a1a1a" stroke-width="0.9"/>
<line x1="449.50" y1="256.25" x2="449.50" y2="268.25" stroke="#444" stroke-width="0.9" />
<line x1="447.90" y1="256.25" x2="451.10" y2="256.25" stroke="#444" stroke-width="0.9" />
<rect x="445.70" y="268.25" width="7.60" height="44.85" fill="url(#bclwP)" stroke="#1a1a1a" stroke-width="0.9"/>
<line x1="457.10" y1="275.75" x2="457.10" y2="284.25" stroke="#444" stroke-width="0.9" />
<line x1="455.50" y1="275.75" x2="458.70" y2="275.75" stroke="#444" stroke-width="0.9" />
<rect x="453.30" y="284.25" width="7.60" height="28.85" fill="url(#lprP)" stroke="#1a1a1a" stroke-width="0.9"/>
<line x1="476.40" y1="260.75" x2="476.40" y2="270.50" stroke="#444" stroke-width="0.9" />
<line x1="474.80" y1="260.75" x2="478.00" y2="260.75" stroke="#444" stroke-width="0.9" />
<rect x="472.60" y="270.50" width="7.60" height="42.60" fill="#fff" stroke="#1a1a1a" stroke-width="0.9"/>
<line x1="484.00" y1="272.50" x2="484.00" y2="275.75" stroke="#444" stroke-width="0.9" />
<line x1="482.40" y1="272.50" x2="485.60" y2="272.50" stroke="#444" stroke-width="0.9" />
<rect x="480.20" y="275.75" width="7.60" height="37.35" fill="url(#bcl2P)" stroke="#1a1a1a" stroke-width="0.9"/>
<line x1="491.60" y1="261.25" x2="491.60" y2="279.25" stroke="#444" stroke-width="0.9" />
<line x1="490.00" y1="261.25" x2="493.20" y2="261.25" stroke="#444" stroke-width="0.9" />
<rect x="487.80" y="279.25" width="7.60" height="33.85" fill="url(#bclwP)" stroke="#1a1a1a" stroke-width="0.9"/>
<line x1="499.20" y1="268.25" x2="499.20" y2="272.00" stroke="#444" stroke-width="0.9" />
<line x1="497.60" y1="268.25" x2="500.80" y2="268.25" stroke="#444" stroke-width="0.9" />
<rect x="495.40" y="272.00" width="7.60" height="41.10" fill="url(#lprP)" stroke="#1a1a1a" stroke-width="0.9"/>
<rect x="299.10" y="182.70" width="211.30" height="130.40" fill="none" stroke="#4a4a4a" stroke-width="1.0"/>
<text transform="translate(294.23,325.90) scale(1.040,1)" font-size="10.0" font-weight="bold" font-style="normal" fill="#111" stroke="#111" stroke-width="0.3">untreated</text>
<text transform="translate(350.18,325.90) scale(1.040,1)" font-size="10.0" font-weight="bold" font-style="normal" fill="#111" stroke="#111" stroke-width="0.3">FasL</text>
<text transform="translate(390.09,325.90) scale(1.040,1)" font-size="10.0" font-weight="bold" font-style="normal" fill="#111" stroke="#111" stroke-width="0.3">VP-16</text>
<text transform="translate(432.60,325.90) scale(1.040,1)" font-size="10.0" font-weight="bold" font-style="normal" fill="#111" stroke="#111" stroke-width="0.3">Taxol</text>
<text transform="translate(466.96,325.90) scale(1.040,1)" font-size="10.0" font-weight="bold" font-style="normal" fill="#111" stroke="#111" stroke-width="0.3">ionomycin</text>
<text transform="translate(278.57,270.08) rotate(-90) scale(1.170,1)" font-size="9.0" font-weight="bold" fill="#111" stroke="#111" stroke-width="0.3">survival (%)</text>
<text transform="translate(304.20,197.40)" font-size="12.2" font-weight="bold" font-style="normal" fill="#111" stroke="#111" stroke-width="0.3">48h</text>
<rect x="450.60" y="189.35" width="7.50" height="7.50" fill="#fff" stroke="#111" stroke-width="0.9"/>
<text transform="translate(462.63,195.60) scale(1.140,1)" font-size="10.4" font-weight="bold" font-style="italic" fill="#111" stroke="#111" stroke-width="0.3">wt</text>
<rect x="450.60" y="202.85" width="7.50" height="7.50" fill="url(#bcl2P)" stroke="#111" stroke-width="0.9"/>
<text transform="translate(462.99,209.80) scale(1.140,1)" font-size="10.4" font-weight="bold" font-style="italic" fill="#111" stroke="#111" stroke-width="0.3">bcl-2-/-</text>
<rect x="450.60" y="215.95" width="7.50" height="7.50" fill="url(#bclwP)" stroke="#111" stroke-width="0.9"/>
<text transform="translate(462.99,222.40) scale(1.140,1)" font-size="10.4" font-weight="bold" font-style="italic" fill="#111" stroke="#111" stroke-width="0.3">bcl-w-/-</text>
<rect x="450.60" y="229.35" width="7.50" height="7.50" fill="url(#lprP)" stroke="#111" stroke-width="0.9"/>
<text transform="translate(462.99,235.60) scale(1.140,1)" font-size="10.4" font-weight="bold" font-style="italic" fill="#111" stroke="#111" stroke-width="0.3">lpr</text>
<line x1="31.80" y1="349.20" x2="34.20" y2="349.20" stroke="#4a4a4a" stroke-width="0.9" />
<text transform="translate(11.57,351.77) scale(1.030,1)" font-size="9.8" font-weight="bold" font-style="normal" fill="#111" stroke="#111" stroke-width="0.3">100</text>
<line x1="31.80" y1="414.20" x2="34.20" y2="414.20" stroke="#4a4a4a" stroke-width="0.9" />
<text transform="translate(17.18,418.37) scale(1.030,1)" font-size="9.8" font-weight="bold" font-style="normal" fill="#111" stroke="#111" stroke-width="0.3">10</text>
<line x1="31.80" y1="479.20" x2="34.20" y2="479.20" stroke="#4a4a4a" stroke-width="0.9" />
<text transform="translate(22.67,482.17) scale(1.030,1)" font-size="9.8" font-weight="bold" font-style="normal" fill="#111" stroke="#111" stroke-width="0.3">1</text>
<line x1="34.20" y1="394.63" x2="36.00" y2="394.63" stroke="#777" stroke-width="0.7" />
<line x1="34.20" y1="383.19" x2="36.00" y2="383.19" stroke="#777" stroke-width="0.7" />
<line x1="34.20" y1="375.07" x2="36.00" y2="375.07" stroke="#777" stroke-width="0.7" />
<line x1="34.20" y1="368.77" x2="36.00" y2="368.77" stroke="#777" stroke-width="0.7" />
<line x1="34.20" y1="363.62" x2="36.00" y2="363.62" stroke="#777" stroke-width="0.7" />
<line x1="34.20" y1="359.27" x2="36.00" y2="359.27" stroke="#777" stroke-width="0.7" />
<line x1="34.20" y1="355.50" x2="36.00" y2="355.50" stroke="#777" stroke-width="0.7" />
<line x1="34.20" y1="352.17" x2="36.00" y2="352.17" stroke="#777" stroke-width="0.7" />
<line x1="34.20" y1="459.63" x2="36.00" y2="459.63" stroke="#777" stroke-width="0.7" />
<line x1="34.20" y1="448.19" x2="36.00" y2="448.19" stroke="#777" stroke-width="0.7" />
<line x1="34.20" y1="440.07" x2="36.00" y2="440.07" stroke="#777" stroke-width="0.7" />
<line x1="34.20" y1="433.77" x2="36.00" y2="433.77" stroke="#777" stroke-width="0.7" />
<line x1="34.20" y1="428.62" x2="36.00" y2="428.62" stroke="#777" stroke-width="0.7" />
<line x1="34.20" y1="424.27" x2="36.00" y2="424.27" stroke="#777" stroke-width="0.7" />
<line x1="34.20" y1="420.50" x2="36.00" y2="420.50" stroke="#777" stroke-width="0.7" />
<line x1="34.20" y1="417.17" x2="36.00" y2="417.17" stroke="#777" stroke-width="0.7" />
<line x1="77.20" y1="479.20" x2="77.20" y2="482.40" stroke="#4a4a4a" stroke-width="0.9" />
<line x1="119.40" y1="479.20" x2="119.40" y2="482.40" stroke="#4a4a4a" stroke-width="0.9" />
<line x1="162.00" y1="479.20" x2="162.00" y2="482.40" stroke="#4a4a4a" stroke-width="0.9" />
<line x1="225.00" y1="479.20" x2="225.00" y2="482.40" stroke="#4a4a4a" stroke-width="0.9" />
<polyline points="34.20,350.00 77.50,360.10 119.60,387.00 162.30,396.90 225.60,413.30" fill="none" stroke="#1a1a1a" stroke-width="1.0"/>
<polyline points="34.20,350.00 77.50,358.00 119.60,390.30 162.30,410.40 225.60,428.10" fill="none" stroke="#1a1a1a" stroke-width="1.0"/>
<polyline points="34.20,350.00 77.50,354.00 119.60,355.90 162.30,359.40 225.60,362.30" fill="none" stroke="#1a1a1a" stroke-width="1.0"/>
<polyline points="34.20,350.00 77.50,354.80 119.60,360.70 162.30,363.30 225.60,371.30" fill="none" stroke="#1a1a1a" stroke-width="1.0"/>
<line x1="77.50" y1="353.00" x2="77.50" y2="365.00" stroke="#333" stroke-width="0.8" />
<line x1="76.30" y1="353.00" x2="78.70" y2="353.00" stroke="#333" stroke-width="0.8" />
<line x1="76.30" y1="365.00" x2="78.70" y2="365.00" stroke="#333" stroke-width="0.8" />
<line x1="119.60" y1="379.80" x2="119.60" y2="395.00" stroke="#333" stroke-width="0.8" />
<line x1="118.40" y1="379.80" x2="120.80" y2="379.80" stroke="#333" stroke-width="0.8" />
<line x1="118.40" y1="395.00" x2="120.80" y2="395.00" stroke="#333" stroke-width="0.8" />
<line x1="162.30" y1="389.20" x2="162.30" y2="405.00" stroke="#333" stroke-width="0.8" />
<line x1="161.10" y1="389.20" x2="163.50" y2="389.20" stroke="#333" stroke-width="0.8" />
<line x1="161.10" y1="405.00" x2="163.50" y2="405.00" stroke="#333" stroke-width="0.8" />
<line x1="225.60" y1="404.60" x2="225.60" y2="422.00" stroke="#333" stroke-width="0.8" />
<line x1="224.40" y1="404.60" x2="226.80" y2="404.60" stroke="#333" stroke-width="0.8" />
<line x1="224.40" y1="422.00" x2="226.80" y2="422.00" stroke="#333" stroke-width="0.8" />
<rect x="31.70" y="347.50" width="5.00" height="5.00" fill="#fff" stroke="#111" stroke-width="0.9"/>
<rect x="75.00" y="357.60" width="5.00" height="5.00" fill="#fff" stroke="#111" stroke-width="0.9"/>
<rect x="117.10" y="384.50" width="5.00" height="5.00" fill="#fff" stroke="#111" stroke-width="0.9"/>
<rect x="159.80" y="394.40" width="5.00" height="5.00" fill="#fff" stroke="#111" stroke-width="0.9"/>
<rect x="223.10" y="410.80" width="5.00" height="5.00" fill="#fff" stroke="#111" stroke-width="0.9"/>
<line x1="119.60" y1="382.00" x2="119.60" y2="398.80" stroke="#333" stroke-width="0.8" />
<line x1="118.40" y1="382.00" x2="120.80" y2="382.00" stroke="#333" stroke-width="0.8" />
<line x1="118.40" y1="398.80" x2="120.80" y2="398.80" stroke="#333" stroke-width="0.8" />
<line x1="162.30" y1="400.00" x2="162.30" y2="420.00" stroke="#333" stroke-width="0.8" />
<line x1="161.10" y1="400.00" x2="163.50" y2="400.00" stroke="#333" stroke-width="0.8" />
<line x1="161.10" y1="420.00" x2="163.50" y2="420.00" stroke="#333" stroke-width="0.8" />
<line x1="225.60" y1="420.00" x2="225.60" y2="439.20" stroke="#333" stroke-width="0.8" />
<line x1="224.40" y1="420.00" x2="226.80" y2="420.00" stroke="#333" stroke-width="0.8" />
<line x1="224.40" y1="439.20" x2="226.80" y2="439.20" stroke="#333" stroke-width="0.8" />
<polygon points="34.20,347.25 37.00,352.50 31.40,352.50" fill="#fff" stroke="#111" stroke-width="0.9" stroke-linejoin="miter"/>
<polygon points="77.50,355.25 80.30,360.50 74.70,360.50" fill="#fff" stroke="#111" stroke-width="0.9" stroke-linejoin="miter"/>
<polygon points="119.60,387.55 122.40,392.80 116.80,392.80" fill="#fff" stroke="#111" stroke-width="0.9" stroke-linejoin="miter"/>
<polygon points="162.30,407.65 165.10,412.90 159.50,412.90" fill="#fff" stroke="#111" stroke-width="0.9" stroke-linejoin="miter"/>
<polygon points="225.60,425.35 228.40,430.60 222.80,430.60" fill="#fff" stroke="#111" stroke-width="0.9" stroke-linejoin="miter"/>
<line x1="162.30" y1="353.70" x2="162.30" y2="366.00" stroke="#333" stroke-width="0.8" />
<line x1="161.10" y1="353.70" x2="163.50" y2="353.70" stroke="#333" stroke-width="0.8" />
<line x1="161.10" y1="366.00" x2="163.50" y2="366.00" stroke="#333" stroke-width="0.8" />
<line x1="225.60" y1="354.60" x2="225.60" y2="370.00" stroke="#333" stroke-width="0.8" />
<line x1="224.40" y1="354.60" x2="226.80" y2="354.60" stroke="#333" stroke-width="0.8" />
<line x1="224.40" y1="370.00" x2="226.80" y2="370.00" stroke="#333" stroke-width="0.8" />
<polygon points="34.20,347.25 37.00,352.50 31.40,352.50" fill="#111" stroke="#111" stroke-width="0.9" stroke-linejoin="miter"/>
<polygon points="77.50,351.25 80.30,356.50 74.70,356.50" fill="#111" stroke="#111" stroke-width="0.9" stroke-linejoin="miter"/>
<polygon points="119.60,353.15 122.40,358.40 116.80,358.40" fill="#111" stroke="#111" stroke-width="0.9" stroke-linejoin="miter"/>
<polygon points="162.30,356.65 165.10,361.90 159.50,361.90" fill="#111" stroke="#111" stroke-width="0.9" stroke-linejoin="miter"/>
<polygon points="225.60,359.55 228.40,364.80 222.80,364.80" fill="#111" stroke="#111" stroke-width="0.9" stroke-linejoin="miter"/>
<line x1="119.60" y1="356.00" x2="119.60" y2="366.00" stroke="#333" stroke-width="0.8" />
<line x1="118.40" y1="356.00" x2="120.80" y2="356.00" stroke="#333" stroke-width="0.8" />
<line x1="118.40" y1="366.00" x2="120.80" y2="366.00" stroke="#333" stroke-width="0.8" />
<line x1="162.30" y1="356.00" x2="162.30" y2="371.90" stroke="#333" stroke-width="0.8" />
<line x1="161.10" y1="356.00" x2="163.50" y2="356.00" stroke="#333" stroke-width="0.8" />
<line x1="161.10" y1="371.90" x2="163.50" y2="371.90" stroke="#333" stroke-width="0.8" />
<line x1="225.60" y1="362.00" x2="225.60" y2="380.60" stroke="#333" stroke-width="0.8" />
<line x1="224.40" y1="362.00" x2="226.80" y2="362.00" stroke="#333" stroke-width="0.8" />
<line x1="224.40" y1="380.60" x2="226.80" y2="380.60" stroke="#333" stroke-width="0.8" />
<rect x="31.70" y="347.50" width="5.00" height="5.00" fill="#111" stroke="#111" stroke-width="0.9"/>
<rect x="75.00" y="352.30" width="5.00" height="5.00" fill="#111" stroke="#111" stroke-width="0.9"/>
<rect x="117.10" y="358.20" width="5.00" height="5.00" fill="#111" stroke="#111" stroke-width="0.9"/>
<rect x="159.80" y="360.80" width="5.00" height="5.00" fill="#111" stroke="#111" stroke-width="0.9"/>
<rect x="223.10" y="368.80" width="5.00" height="5.00" fill="#111" stroke="#111" stroke-width="0.9"/>
<rect x="34.20" y="349.20" width="212.70" height="130.00" fill="none" stroke="#4a4a4a" stroke-width="1.0"/>
<text transform="translate(32.80,492.80) scale(1.040,1)" font-size="10.0" font-weight="bold" font-style="normal" fill="#111" stroke="#111" stroke-width="0.3">0h</text>
<text transform="translate(70.34,492.80) scale(1.040,1)" font-size="10.0" font-weight="bold" font-style="normal" fill="#111" stroke="#111" stroke-width="0.3">8h</text>
<text transform="translate(109.15,492.80) scale(1.040,1)" font-size="10.0" font-weight="bold" font-style="normal" fill="#111" stroke="#111" stroke-width="0.3">16h</text>
<text transform="translate(155.29,492.80) scale(1.040,1)" font-size="10.0" font-weight="bold" font-style="normal" fill="#111" stroke="#111" stroke-width="0.3">24h</text>
<text transform="translate(218.14,492.80) scale(1.040,1)" font-size="10.0" font-weight="bold" font-style="normal" fill="#111" stroke="#111" stroke-width="0.3">36h</text>
<text transform="translate(12.22,445.48) rotate(-90) scale(1.170,1)" font-size="9.0" font-weight="bold" fill="#111" stroke="#111" stroke-width="0.3">survival (%)</text>
<rect x="43.60" y="427.65" width="7.20" height="7.20" fill="#fff" stroke="#111" stroke-width="0.9"/>
<text transform="translate(57.00,433.50) scale(1.140,1)" font-size="10.9" font-weight="bold" font-style="italic" fill="#111" stroke="#111" stroke-width="0.3">wt</text>
<rect x="43.60" y="441.10" width="7.20" height="7.20" fill="#111" stroke="#111" stroke-width="0.9"/>
<text transform="translate(57.38,448.00) scale(1.140,1)" font-size="10.9" font-weight="bold" font-style="italic" fill="#111" stroke="#111" stroke-width="0.3">bim-/-</text>
<polygon points="47.20,454.64 51.10,462.20 43.30,462.20" fill="#111" stroke="#111" stroke-width="0.9" stroke-linejoin="miter"/>
<text transform="translate(56.93,462.10) scale(1.140,1)" font-size="10.9" font-weight="bold" font-style="italic" fill="#111" stroke="#111" stroke-width="0.3">vav-bcl-2</text>
<polygon points="47.20,468.04 51.10,475.60 43.30,475.60" fill="#fff" stroke="#111" stroke-width="0.9" stroke-linejoin="miter"/>
<text transform="translate(57.38,475.40) scale(1.140,1)" font-size="10.9" font-weight="bold" font-style="italic" fill="#111" stroke="#111" stroke-width="0.3">bax-/-</text>
<line x1="296.10" y1="348.60" x2="298.50" y2="348.60" stroke="#4a4a4a" stroke-width="0.9" />
<text transform="translate(278.57,351.87) scale(1.030,1)" font-size="9.8" font-weight="bold" font-style="normal" fill="#111" stroke="#111" stroke-width="0.3">100</text>
<line x1="296.10" y1="413.55" x2="298.50" y2="413.55" stroke="#4a4a4a" stroke-width="0.9" />
<text transform="translate(284.18,417.67) scale(1.030,1)" font-size="9.8" font-weight="bold" font-style="normal" fill="#111" stroke="#111" stroke-width="0.3">10</text>
<line x1="296.10" y1="478.50" x2="298.50" y2="478.50" stroke="#4a4a4a" stroke-width="0.9" />
<text transform="translate(289.67,482.37) scale(1.030,1)" font-size="9.8" font-weight="bold" font-style="normal" fill="#111" stroke="#111" stroke-width="0.3">1</text>
<line x1="298.50" y1="394.00" x2="300.30" y2="394.00" stroke="#777" stroke-width="0.7" />
<line x1="298.50" y1="382.56" x2="300.30" y2="382.56" stroke="#777" stroke-width="0.7" />
<line x1="298.50" y1="374.45" x2="300.30" y2="374.45" stroke="#777" stroke-width="0.7" />
<line x1="298.50" y1="368.15" x2="300.30" y2="368.15" stroke="#777" stroke-width="0.7" />
<line x1="298.50" y1="363.01" x2="300.30" y2="363.01" stroke="#777" stroke-width="0.7" />
<line x1="298.50" y1="358.66" x2="300.30" y2="358.66" stroke="#777" stroke-width="0.7" />
<line x1="298.50" y1="354.89" x2="300.30" y2="354.89" stroke="#777" stroke-width="0.7" />
<line x1="298.50" y1="351.57" x2="300.30" y2="351.57" stroke="#777" stroke-width="0.7" />
<line x1="298.50" y1="458.95" x2="300.30" y2="458.95" stroke="#777" stroke-width="0.7" />
<line x1="298.50" y1="447.51" x2="300.30" y2="447.51" stroke="#777" stroke-width="0.7" />
<line x1="298.50" y1="439.40" x2="300.30" y2="439.40" stroke="#777" stroke-width="0.7" />
<line x1="298.50" y1="433.10" x2="300.30" y2="433.10" stroke="#777" stroke-width="0.7" />
<line x1="298.50" y1="427.96" x2="300.30" y2="427.96" stroke="#777" stroke-width="0.7" />
<line x1="298.50" y1="423.61" x2="300.30" y2="423.61" stroke="#777" stroke-width="0.7" />
<line x1="298.50" y1="419.84" x2="300.30" y2="419.84" stroke="#777" stroke-width="0.7" />
<line x1="298.50" y1="416.52" x2="300.30" y2="416.52" stroke="#777" stroke-width="0.7" />
<line x1="340.60" y1="478.50" x2="340.60" y2="482.00" stroke="#4a4a4a" stroke-width="0.9" />
<line x1="382.50" y1="478.50" x2="382.50" y2="482.00" stroke="#4a4a4a" stroke-width="0.9" />
<line x1="425.80" y1="478.50" x2="425.80" y2="482.00" stroke="#4a4a4a" stroke-width="0.9" />
<line x1="489.10" y1="478.50" x2="489.10" y2="482.00" stroke="#4a4a4a" stroke-width="0.9" />
<polyline points="298.75,349.00 341.50,361.00 383.80,393.50 427.10,407.50 490.60,436.90" fill="none" stroke="#1a1a1a" stroke-width="1.0"/>
<polyline points="298.75,349.00 341.50,360.00 383.80,391.00 427.10,401.00 490.60,430.00" fill="none" stroke="#1a1a1a" stroke-width="1.0"/>
<polyline points="298.75,349.00 341.50,357.50 383.80,386.50 427.10,396.30 490.60,406.70" fill="none" stroke="#1a1a1a" stroke-width="1.0"/>
<polyline points="298.75,349.00 341.50,358.50 383.80,388.00 427.10,399.50 490.60,412.70" fill="none" stroke="#1a1a1a" stroke-width="1.0"/>
<line x1="427.10" y1="400.00" x2="427.10" y2="415.00" stroke="#333" stroke-width="0.8" />
<line x1="425.90" y1="400.00" x2="428.30" y2="400.00" stroke="#333" stroke-width="0.8" />
<line x1="425.90" y1="415.00" x2="428.30" y2="415.00" stroke="#333" stroke-width="0.8" />
<line x1="490.60" y1="428.00" x2="490.60" y2="441.50" stroke="#333" stroke-width="0.8" />
<line x1="489.40" y1="428.00" x2="491.80" y2="428.00" stroke="#333" stroke-width="0.8" />
<line x1="489.40" y1="441.50" x2="491.80" y2="441.50" stroke="#333" stroke-width="0.8" />
<rect x="296.25" y="346.50" width="5.00" height="5.00" fill="url(#lprS)" stroke="#111" stroke-width="0.9"/>
<rect x="339.00" y="358.50" width="5.00" height="5.00" fill="url(#lprS)" stroke="#111" stroke-width="0.9"/>
<rect x="381.30" y="391.00" width="5.00" height="5.00" fill="url(#lprS)" stroke="#111" stroke-width="0.9"/>
<rect x="424.60" y="405.00" width="5.00" height="5.00" fill="url(#lprS)" stroke="#111" stroke-width="0.9"/>
<rect x="488.10" y="434.40" width="5.00" height="5.00" fill="url(#lprS)" stroke="#111" stroke-width="0.9"/>
<line x1="427.10" y1="395.00" x2="427.10" y2="410.00" stroke="#333" stroke-width="0.8" />
<line x1="425.90" y1="395.00" x2="428.30" y2="395.00" stroke="#333" stroke-width="0.8" />
<line x1="425.90" y1="410.00" x2="428.30" y2="410.00" stroke="#333" stroke-width="0.8" />
<line x1="490.60" y1="422.00" x2="490.60" y2="436.00" stroke="#333" stroke-width="0.8" />
<line x1="489.40" y1="422.00" x2="491.80" y2="422.00" stroke="#333" stroke-width="0.8" />
<line x1="489.40" y1="436.00" x2="491.80" y2="436.00" stroke="#333" stroke-width="0.8" />
<polygon points="298.75,346.25 301.55,351.50 295.95,351.50" fill="url(#bcl2S)" stroke="#111" stroke-width="0.9" stroke-linejoin="miter"/>
<polygon points="341.50,357.25 344.30,362.50 338.70,362.50" fill="url(#bcl2S)" stroke="#111" stroke-width="0.9" stroke-linejoin="miter"/>
<polygon points="383.80,388.25 386.60,393.50 381.00,393.50" fill="url(#bcl2S)" stroke="#111" stroke-width="0.9" stroke-linejoin="miter"/>
<polygon points="427.10,398.25 429.90,403.50 424.30,403.50" fill="url(#bcl2S)" stroke="#111" stroke-width="0.9" stroke-linejoin="miter"/>
<polygon points="490.60,427.25 493.40,432.50 487.80,432.50" fill="url(#bcl2S)" stroke="#111" stroke-width="0.9" stroke-linejoin="miter"/>
<line x1="383.80" y1="379.40" x2="383.80" y2="392.00" stroke="#333" stroke-width="0.8" />
<line x1="382.60" y1="379.40" x2="385.00" y2="379.40" stroke="#333" stroke-width="0.8" />
<line x1="382.60" y1="392.00" x2="385.00" y2="392.00" stroke="#333" stroke-width="0.8" />
<line x1="427.10" y1="388.50" x2="427.10" y2="402.00" stroke="#333" stroke-width="0.8" />
<line x1="425.90" y1="388.50" x2="428.30" y2="388.50" stroke="#333" stroke-width="0.8" />
<line x1="425.90" y1="402.00" x2="428.30" y2="402.00" stroke="#333" stroke-width="0.8" />
<line x1="490.60" y1="403.80" x2="490.60" y2="415.00" stroke="#333" stroke-width="0.8" />
<line x1="489.40" y1="403.80" x2="491.80" y2="403.80" stroke="#333" stroke-width="0.8" />
<line x1="489.40" y1="415.00" x2="491.80" y2="415.00" stroke="#333" stroke-width="0.8" />
<polygon points="298.75,346.25 301.55,351.50 295.95,351.50" fill="#fff" stroke="#111" stroke-width="0.9" stroke-linejoin="miter"/>
<polygon points="341.50,354.75 344.30,360.00 338.70,360.00" fill="#fff" stroke="#111" stroke-width="0.9" stroke-linejoin="miter"/>
<polygon points="383.80,383.75 386.60,389.00 381.00,389.00" fill="#fff" stroke="#111" stroke-width="0.9" stroke-linejoin="miter"/>
<polygon points="427.10,393.55 429.90,398.80 424.30,398.80" fill="#fff" stroke="#111" stroke-width="0.9" stroke-linejoin="miter"/>
<polygon points="490.60,403.95 493.40,409.20 487.80,409.20" fill="#fff" stroke="#111" stroke-width="0.9" stroke-linejoin="miter"/>
<line x1="341.50" y1="354.00" x2="341.50" y2="364.00" stroke="#333" stroke-width="0.8" />
<line x1="340.30" y1="354.00" x2="342.70" y2="354.00" stroke="#333" stroke-width="0.8" />
<line x1="340.30" y1="364.00" x2="342.70" y2="364.00" stroke="#333" stroke-width="0.8" />
<line x1="427.10" y1="390.00" x2="427.10" y2="415.00" stroke="#333" stroke-width="0.8" />
<line x1="425.90" y1="390.00" x2="428.30" y2="390.00" stroke="#333" stroke-width="0.8" />
<line x1="425.90" y1="415.00" x2="428.30" y2="415.00" stroke="#333" stroke-width="0.8" />
<line x1="490.60" y1="405.00" x2="490.60" y2="418.00" stroke="#333" stroke-width="0.8" />
<line x1="489.40" y1="405.00" x2="491.80" y2="405.00" stroke="#333" stroke-width="0.8" />
<line x1="489.40" y1="418.00" x2="491.80" y2="418.00" stroke="#333" stroke-width="0.8" />
<rect x="296.25" y="346.50" width="5.00" height="5.00" fill="#fff" stroke="#111" stroke-width="0.9"/>
<rect x="339.00" y="356.00" width="5.00" height="5.00" fill="#fff" stroke="#111" stroke-width="0.9"/>
<rect x="381.30" y="385.50" width="5.00" height="5.00" fill="#fff" stroke="#111" stroke-width="0.9"/>
<rect x="424.60" y="397.00" width="5.00" height="5.00" fill="#fff" stroke="#111" stroke-width="0.9"/>
<rect x="488.10" y="410.20" width="5.00" height="5.00" fill="#fff" stroke="#111" stroke-width="0.9"/>
<rect x="298.50" y="348.60" width="213.20" height="129.90" fill="none" stroke="#4a4a4a" stroke-width="1.0"/>
<text transform="translate(294.65,493.50) scale(1.040,1)" font-size="10.0" font-weight="bold" font-style="normal" fill="#111" stroke="#111" stroke-width="0.3">0h</text>
<text transform="translate(334.69,493.50) scale(1.040,1)" font-size="10.0" font-weight="bold" font-style="normal" fill="#111" stroke="#111" stroke-width="0.3">8h</text>
<text transform="translate(374.65,493.50) scale(1.040,1)" font-size="10.0" font-weight="bold" font-style="normal" fill="#111" stroke="#111" stroke-width="0.3">16h</text>
<text transform="translate(418.79,493.50) scale(1.040,1)" font-size="10.0" font-weight="bold" font-style="normal" fill="#111" stroke="#111" stroke-width="0.3">24h</text>
<text transform="translate(481.74,493.50) scale(1.040,1)" font-size="10.0" font-weight="bold" font-style="normal" fill="#111" stroke="#111" stroke-width="0.3">36h</text>
<text transform="translate(276.07,444.48) rotate(-90) scale(1.170,1)" font-size="9.0" font-weight="bold" fill="#111" stroke="#111" stroke-width="0.3">survival (%)</text>
<rect x="306.15" y="425.00" width="7.20" height="7.20" fill="#fff" stroke="#111" stroke-width="0.9"/>
<text transform="translate(323.21,431.25) scale(1.140,1)" font-size="10.8" font-weight="bold" font-style="italic" fill="#111" stroke="#111" stroke-width="0.3">wt</text>
<rect x="306.15" y="439.10" width="7.20" height="7.20" fill="url(#lprS)" stroke="#111" stroke-width="0.9"/>
<text transform="translate(323.58,444.50) scale(1.140,1)" font-size="10.8" font-weight="bold" font-style="italic" fill="#111" stroke="#111" stroke-width="0.3">lpr</text>
<polygon points="309.75,452.64 313.65,460.20 305.85,460.20" fill="url(#bcl2S)" stroke="#111" stroke-width="0.9" stroke-linejoin="miter"/>
<text transform="translate(323.58,459.20) scale(1.140,1)" font-size="10.8" font-weight="bold" font-style="italic" fill="#111" stroke="#111" stroke-width="0.3">bcl-2-/-</text>
<polygon points="309.75,466.24 313.65,473.80 305.85,473.80" fill="#fff" stroke="#111" stroke-width="0.9" stroke-linejoin="miter"/>
<text transform="translate(323.58,473.10) scale(1.140,1)" font-size="10.8" font-weight="bold" font-style="italic" fill="#111" stroke="#111" stroke-width="0.3">bcl-w-/-</text>
<line x1="34.50" y1="506.70" x2="36.70" y2="506.70" stroke="#333" stroke-width="1.0" />
<text transform="translate(14.87,512.12) scale(1.030,1)" font-size="9.8" font-weight="bold" font-style="normal" fill="#111" stroke="#111" stroke-width="0.3">100</text>
<line x1="34.50" y1="532.60" x2="36.70" y2="532.60" stroke="#333" stroke-width="1.0" />
<text transform="translate(19.98,537.37) scale(1.030,1)" font-size="9.8" font-weight="bold" font-style="normal" fill="#111" stroke="#111" stroke-width="0.3">80</text>
<line x1="34.50" y1="558.50" x2="36.70" y2="558.50" stroke="#333" stroke-width="1.0" />
<text transform="translate(19.78,563.37) scale(1.030,1)" font-size="9.8" font-weight="bold" font-style="normal" fill="#111" stroke="#111" stroke-width="0.3">60</text>
<line x1="34.50" y1="584.40" x2="36.70" y2="584.40" stroke="#333" stroke-width="1.0" />
<text transform="translate(19.58,589.17) scale(1.030,1)" font-size="9.8" font-weight="bold" font-style="normal" fill="#111" stroke="#111" stroke-width="0.3">40</text>
<line x1="34.50" y1="610.30" x2="36.70" y2="610.30" stroke="#333" stroke-width="1.0" />
<text transform="translate(19.38,616.37) scale(1.030,1)" font-size="9.8" font-weight="bold" font-style="normal" fill="#111" stroke="#111" stroke-width="0.3">20</text>
<line x1="34.50" y1="636.20" x2="36.70" y2="636.20" stroke="#333" stroke-width="1.0" />
<text transform="translate(23.79,642.77) scale(1.030,1)" font-size="9.8" font-weight="bold" font-style="normal" fill="#111" stroke="#111" stroke-width="0.3">0</text>
<line x1="36.70" y1="623.25" x2="38.30" y2="623.25" stroke="#666" stroke-width="0.7" />
<line x1="36.70" y1="597.35" x2="38.30" y2="597.35" stroke="#666" stroke-width="0.7" />
<line x1="36.70" y1="571.45" x2="38.30" y2="571.45" stroke="#666" stroke-width="0.7" />
<line x1="36.70" y1="545.55" x2="38.30" y2="545.55" stroke="#666" stroke-width="0.7" />
<line x1="36.70" y1="519.65" x2="38.30" y2="519.65" stroke="#666" stroke-width="0.7" />
<line x1="54.18" y1="535.75" x2="54.18" y2="549.50" stroke="#444" stroke-width="0.9" />
<line x1="51.83" y1="535.75" x2="56.53" y2="535.75" stroke="#444" stroke-width="0.9" />
<rect x="48.20" y="549.50" width="11.95" height="86.70" fill="#fff" stroke="#1a1a1a" stroke-width="0.9"/>
<line x1="66.12" y1="515.75" x2="66.12" y2="527.00" stroke="#444" stroke-width="0.9" />
<line x1="63.77" y1="515.75" x2="68.47" y2="515.75" stroke="#444" stroke-width="0.9" />
<rect x="60.15" y="527.00" width="11.95" height="109.20" fill="#111" stroke="#1a1a1a" stroke-width="0.9"/>
<line x1="78.07" y1="519.50" x2="78.07" y2="532.00" stroke="#444" stroke-width="0.9" />
<line x1="75.72" y1="519.50" x2="80.42" y2="519.50" stroke="#444" stroke-width="0.9" />
<rect x="72.10" y="532.00" width="11.95" height="104.20" fill="#d6d6d6" stroke="#1a1a1a" stroke-width="0.9"/>
<line x1="90.02" y1="535.75" x2="90.02" y2="542.00" stroke="#444" stroke-width="0.9" />
<line x1="87.67" y1="535.75" x2="92.37" y2="535.75" stroke="#444" stroke-width="0.9" />
<rect x="84.05" y="542.00" width="11.95" height="94.20" fill="url(#baxP)" stroke="#1a1a1a" stroke-width="0.9"/>
<line x1="124.72" y1="597.50" x2="124.72" y2="615.00" stroke="#444" stroke-width="0.9" />
<line x1="122.38" y1="597.50" x2="127.07" y2="597.50" stroke="#444" stroke-width="0.9" />
<rect x="118.75" y="615.00" width="11.95" height="21.20" fill="#fff" stroke="#1a1a1a" stroke-width="0.9"/>
<line x1="136.67" y1="581.25" x2="136.67" y2="600.75" stroke="#444" stroke-width="0.9" />
<line x1="134.32" y1="581.25" x2="139.02" y2="581.25" stroke="#444" stroke-width="0.9" />
<rect x="130.70" y="600.75" width="11.95" height="35.45" fill="#111" stroke="#1a1a1a" stroke-width="0.9"/>
<line x1="148.62" y1="587.50" x2="148.62" y2="606.25" stroke="#444" stroke-width="0.9" />
<line x1="146.28" y1="587.50" x2="150.97" y2="587.50" stroke="#444" stroke-width="0.9" />
<rect x="142.65" y="606.25" width="11.95" height="29.95" fill="#d6d6d6" stroke="#1a1a1a" stroke-width="0.9"/>
<line x1="160.57" y1="592.50" x2="160.57" y2="606.25" stroke="#444" stroke-width="0.9" />
<line x1="158.22" y1="592.50" x2="162.92" y2="592.50" stroke="#444" stroke-width="0.9" />
<rect x="154.60" y="606.25" width="11.95" height="29.95" fill="url(#baxP)" stroke="#1a1a1a" stroke-width="0.9"/>
<line x1="195.28" y1="546.25" x2="195.28" y2="566.25" stroke="#444" stroke-width="0.9" />
<line x1="192.93" y1="546.25" x2="197.62" y2="546.25" stroke="#444" stroke-width="0.9" />
<rect x="189.30" y="566.25" width="11.95" height="69.95" fill="#fff" stroke="#1a1a1a" stroke-width="0.9"/>
<line x1="207.22" y1="520.50" x2="207.22" y2="532.00" stroke="#444" stroke-width="0.9" />
<line x1="204.88" y1="520.50" x2="209.57" y2="520.50" stroke="#444" stroke-width="0.9" />
<rect x="201.25" y="532.00" width="11.95" height="104.20" fill="#111" stroke="#1a1a1a" stroke-width="0.9"/>
<line x1="219.18" y1="534.50" x2="219.18" y2="542.00" stroke="#444" stroke-width="0.9" />
<line x1="216.83" y1="534.50" x2="221.53" y2="534.50" stroke="#444" stroke-width="0.9" />
<rect x="213.20" y="542.00" width="11.95" height="94.20" fill="#d6d6d6" stroke="#1a1a1a" stroke-width="0.9"/>
<line x1="231.12" y1="545.75" x2="231.12" y2="548.75" stroke="#444" stroke-width="0.9" />
<line x1="228.78" y1="545.75" x2="233.47" y2="545.75" stroke="#444" stroke-width="0.9" />
<rect x="225.15" y="548.75" width="11.95" height="87.45" fill="url(#baxP)" stroke="#1a1a1a" stroke-width="0.9"/>
<rect x="36.70" y="506.10" width="211.40" height="130.10" fill="none" stroke="#4a4a4a" stroke-width="1.0"/>
<text transform="translate(48.93,651.70) scale(1.040,1)" font-size="10.0" font-weight="bold" font-style="normal" fill="#111" stroke="#111" stroke-width="0.3">untreated</text>
<text transform="translate(131.28,651.70) scale(1.040,1)" font-size="10.0" font-weight="bold" font-style="normal" fill="#111" stroke="#111" stroke-width="0.3">FasL</text>
<text transform="translate(200.69,651.70) scale(1.040,1)" font-size="10.0" font-weight="bold" font-style="normal" fill="#111" stroke="#111" stroke-width="0.3">VP-16</text>
<text transform="translate(9.97,599.48) rotate(-90) scale(1.170,1)" font-size="9.0" font-weight="bold" fill="#111" stroke="#111" stroke-width="0.3">survival (%)</text>
<text transform="translate(223.31,524.50)" font-size="12.2" font-weight="bold" font-style="normal" fill="#111" stroke="#111" stroke-width="0.3">8h</text>
<rect x="106.40" y="514.65" width="8.30" height="8.30" fill="#fff" stroke="#111" stroke-width="0.9"/>
<text transform="translate(119.11,522.60) scale(1.140,1)" font-size="10.8" font-weight="bold" font-style="italic" fill="#111" stroke="#111" stroke-width="0.3">wt</text>
<rect x="106.40" y="529.15" width="8.30" height="8.30" fill="#111" stroke="#111" stroke-width="0.9"/>
<text transform="translate(119.04,536.90) scale(1.140,1)" font-size="10.8" font-weight="bold" font-style="italic" fill="#111" stroke="#111" stroke-width="0.3">vav-bcl-2</text>
<rect x="106.40" y="543.05" width="8.30" height="8.30" fill="#d6d6d6" stroke="#111" stroke-width="0.9"/>
<text transform="translate(119.48,550.90) scale(1.140,1)" font-size="10.8" font-weight="bold" font-style="italic" fill="#111" stroke="#111" stroke-width="0.3">bim-/-</text>
<rect x="106.40" y="556.55" width="8.30" height="8.30" fill="url(#baxP)" stroke="#111" stroke-width="0.9"/>
<text transform="translate(119.48,564.30) scale(1.140,1)" font-size="10.8" font-weight="bold" font-style="italic" fill="#111" stroke="#111" stroke-width="0.3">bax-/-</text>
<line x1="300.00" y1="505.70" x2="302.20" y2="505.70" stroke="#333" stroke-width="1.0" />
<text transform="translate(280.47,512.07) scale(1.030,1)" font-size="9.8" font-weight="bold" font-style="normal" fill="#111" stroke="#111" stroke-width="0.3">100</text>
<line x1="300.00" y1="531.74" x2="302.20" y2="531.74" stroke="#333" stroke-width="1.0" />
<text transform="translate(284.68,537.77) scale(1.030,1)" font-size="9.8" font-weight="bold" font-style="normal" fill="#111" stroke="#111" stroke-width="0.3">80</text>
<line x1="300.00" y1="557.78" x2="302.20" y2="557.78" stroke="#333" stroke-width="1.0" />
<text transform="translate(284.48,562.47) scale(1.030,1)" font-size="9.8" font-weight="bold" font-style="normal" fill="#111" stroke="#111" stroke-width="0.3">60</text>
<line x1="300.00" y1="583.82" x2="302.20" y2="583.82" stroke="#333" stroke-width="1.0" />
<text transform="translate(284.48,588.87) scale(1.030,1)" font-size="9.8" font-weight="bold" font-style="normal" fill="#111" stroke="#111" stroke-width="0.3">40</text>
<line x1="300.00" y1="609.86" x2="302.20" y2="609.86" stroke="#333" stroke-width="1.0" />
<text transform="translate(284.18,616.07) scale(1.030,1)" font-size="9.8" font-weight="bold" font-style="normal" fill="#111" stroke="#111" stroke-width="0.3">20</text>
<line x1="300.00" y1="635.90" x2="302.20" y2="635.90" stroke="#333" stroke-width="1.0" />
<text transform="translate(289.39,641.97) scale(1.030,1)" font-size="9.8" font-weight="bold" font-style="normal" fill="#111" stroke="#111" stroke-width="0.3">0</text>
<line x1="302.20" y1="622.88" x2="303.80" y2="622.88" stroke="#666" stroke-width="0.7" />
<line x1="302.20" y1="596.84" x2="303.80" y2="596.84" stroke="#666" stroke-width="0.7" />
<line x1="302.20" y1="570.80" x2="303.80" y2="570.80" stroke="#666" stroke-width="0.7" />
<line x1="302.20" y1="544.76" x2="303.80" y2="544.76" stroke="#666" stroke-width="0.7" />
<line x1="302.20" y1="518.72" x2="303.80" y2="518.72" stroke="#666" stroke-width="0.7" />
<line x1="319.32" y1="535.50" x2="319.32" y2="549.50" stroke="#444" stroke-width="0.9" />
<line x1="316.97" y1="535.50" x2="321.68" y2="535.50" stroke="#444" stroke-width="0.9" />
<rect x="313.30" y="549.50" width="12.05" height="86.40" fill="#fff" stroke="#1a1a1a" stroke-width="0.9"/>
<line x1="331.38" y1="539.50" x2="331.38" y2="552.50" stroke="#444" stroke-width="0.9" />
<line x1="329.02" y1="539.50" x2="333.73" y2="539.50" stroke="#444" stroke-width="0.9" />
<rect x="325.35" y="552.50" width="12.05" height="83.40" fill="url(#bcl2H)" stroke="#1a1a1a" stroke-width="0.9"/>
<line x1="343.43" y1="536.25" x2="343.43" y2="543.75" stroke="#444" stroke-width="0.9" />
<line x1="341.07" y1="536.25" x2="345.78" y2="536.25" stroke="#444" stroke-width="0.9" />
<rect x="337.40" y="543.75" width="12.05" height="92.15" fill="url(#bclwP)" stroke="#1a1a1a" stroke-width="0.9"/>
<line x1="355.48" y1="537.50" x2="355.48" y2="540.50" stroke="#444" stroke-width="0.9" />
<line x1="353.12" y1="537.50" x2="357.83" y2="537.50" stroke="#444" stroke-width="0.9" />
<rect x="349.45" y="540.50" width="12.05" height="95.40" fill="url(#lprP)" stroke="#1a1a1a" stroke-width="0.9"/>
<line x1="389.92" y1="597.50" x2="389.92" y2="614.50" stroke="#444" stroke-width="0.9" />
<line x1="387.57" y1="597.50" x2="392.27" y2="597.50" stroke="#444" stroke-width="0.9" />
<rect x="383.90" y="614.50" width="12.05" height="21.40" fill="#fff" stroke="#1a1a1a" stroke-width="0.9"/>
<line x1="401.97" y1="582.50" x2="401.97" y2="599.50" stroke="#444" stroke-width="0.9" />
<line x1="399.62" y1="582.50" x2="404.32" y2="582.50" stroke="#444" stroke-width="0.9" />
<rect x="395.95" y="599.50" width="12.05" height="36.40" fill="url(#bcl2H)" stroke="#1a1a1a" stroke-width="0.9"/>
<line x1="414.02" y1="602.50" x2="414.02" y2="617.00" stroke="#444" stroke-width="0.9" />
<line x1="411.67" y1="602.50" x2="416.38" y2="602.50" stroke="#444" stroke-width="0.9" />
<rect x="408.00" y="617.00" width="12.05" height="18.90" fill="url(#bclwP)" stroke="#1a1a1a" stroke-width="0.9"/>
<line x1="426.07" y1="531.75" x2="426.07" y2="537.50" stroke="#444" stroke-width="0.9" />
<line x1="423.72" y1="531.75" x2="428.42" y2="531.75" stroke="#444" stroke-width="0.9" />
<rect x="420.05" y="537.50" width="12.05" height="98.40" fill="url(#lprP)" stroke="#1a1a1a" stroke-width="0.9"/>
<line x1="460.52" y1="548.75" x2="460.52" y2="565.50" stroke="#444" stroke-width="0.9" />
<line x1="458.17" y1="548.75" x2="462.88" y2="548.75" stroke="#444" stroke-width="0.9" />
<rect x="454.50" y="565.50" width="12.05" height="70.40" fill="#fff" stroke="#1a1a1a" stroke-width="0.9"/>
<line x1="472.57" y1="548.75" x2="472.57" y2="568.75" stroke="#444" stroke-width="0.9" />
<line x1="470.22" y1="548.75" x2="474.93" y2="548.75" stroke="#444" stroke-width="0.9" />
<rect x="466.55" y="568.75" width="12.05" height="67.15" fill="url(#bcl2H)" stroke="#1a1a1a" stroke-width="0.9"/>
<line x1="484.62" y1="552.00" x2="484.62" y2="562.00" stroke="#444" stroke-width="0.9" />
<line x1="482.27" y1="552.00" x2="486.98" y2="552.00" stroke="#444" stroke-width="0.9" />
<rect x="478.60" y="562.00" width="12.05" height="73.90" fill="url(#bclwP)" stroke="#1a1a1a" stroke-width="0.9"/>
<line x1="496.67" y1="544.50" x2="496.67" y2="549.25" stroke="#444" stroke-width="0.9" />
<line x1="494.32" y1="544.50" x2="499.02" y2="544.50" stroke="#444" stroke-width="0.9" />
<rect x="490.65" y="549.25" width="12.05" height="86.65" fill="url(#lprP)" stroke="#1a1a1a" stroke-width="0.9"/>
<rect x="302.20" y="505.70" width="211.30" height="130.20" fill="none" stroke="#4a4a4a" stroke-width="1.0"/>
<text transform="translate(314.43,651.50) scale(1.040,1)" font-size="10.0" font-weight="bold" font-style="normal" fill="#111" stroke="#111" stroke-width="0.3">untreated</text>
<text transform="translate(397.93,651.50) scale(1.040,1)" font-size="10.0" font-weight="bold" font-style="normal" fill="#111" stroke="#111" stroke-width="0.3">FasL</text>
<text transform="translate(467.94,651.50) scale(1.040,1)" font-size="10.0" font-weight="bold" font-style="normal" fill="#111" stroke="#111" stroke-width="0.3">VP-16</text>
<text transform="translate(274.92,598.48) rotate(-90) scale(1.170,1)" font-size="9.0" font-weight="bold" fill="#111" stroke="#111" stroke-width="0.3">survival (%)</text>
<text transform="translate(491.51,521.80)" font-size="12.2" font-weight="bold" font-style="normal" fill="#111" stroke="#111" stroke-width="0.3">8h</text>
<rect x="366.00" y="510.90" width="7.70" height="7.70" fill="#fff" stroke="#111" stroke-width="0.9"/>
<text transform="translate(378.03,517.30) scale(1.140,1)" font-size="10.5" font-weight="bold" font-style="italic" fill="#111" stroke="#111" stroke-width="0.3">wt</text>
<rect x="366.00" y="524.55" width="7.70" height="7.70" fill="url(#bcl2P)" stroke="#111" stroke-width="0.9"/>
<text transform="translate(378.38,531.70) scale(1.140,1)" font-size="10.5" font-weight="bold" font-style="italic" fill="#111" stroke="#111" stroke-width="0.3">bcl-2-/-</text>
<rect x="366.00" y="537.65" width="7.70" height="7.70" fill="url(#bclwP)" stroke="#111" stroke-width="0.9"/>
<text transform="translate(378.38,544.70) scale(1.140,1)" font-size="10.5" font-weight="bold" font-style="italic" fill="#111" stroke="#111" stroke-width="0.3">bcl-w-/-</text>
<rect x="366.00" y="550.95" width="7.70" height="7.70" fill="url(#lprP)" stroke="#111" stroke-width="0.9"/>
<text transform="translate(378.38,556.90) scale(1.140,1)" font-size="10.5" font-weight="bold" font-style="italic" fill="#111" stroke="#111" stroke-width="0.3">lpr</text>
<line x1="34.70" y1="661.60" x2="36.90" y2="661.60" stroke="#333" stroke-width="1.0" />
<text transform="translate(16.37,665.37) scale(1.030,1)" font-size="9.8" font-weight="bold" font-style="normal" fill="#111" stroke="#111" stroke-width="0.3">100</text>
<line x1="34.70" y1="687.66" x2="36.90" y2="687.66" stroke="#333" stroke-width="1.0" />
<text transform="translate(20.98,690.77) scale(1.030,1)" font-size="9.8" font-weight="bold" font-style="normal" fill="#111" stroke="#111" stroke-width="0.3">80</text>
<line x1="34.70" y1="713.72" x2="36.90" y2="713.72" stroke="#333" stroke-width="1.0" />
<text transform="translate(20.78,716.47) scale(1.030,1)" font-size="9.8" font-weight="bold" font-style="normal" fill="#111" stroke="#111" stroke-width="0.3">60</text>
<line x1="34.70" y1="739.78" x2="36.90" y2="739.78" stroke="#333" stroke-width="1.0" />
<text transform="translate(20.78,742.57) scale(1.030,1)" font-size="9.8" font-weight="bold" font-style="normal" fill="#111" stroke="#111" stroke-width="0.3">40</text>
<line x1="34.70" y1="765.84" x2="36.90" y2="765.84" stroke="#333" stroke-width="1.0" />
<text transform="translate(20.78,768.67) scale(1.030,1)" font-size="9.8" font-weight="bold" font-style="normal" fill="#111" stroke="#111" stroke-width="0.3">20</text>
<line x1="34.70" y1="791.90" x2="36.90" y2="791.90" stroke="#333" stroke-width="1.0" />
<text transform="translate(25.99,794.67) scale(1.030,1)" font-size="9.8" font-weight="bold" font-style="normal" fill="#111" stroke="#111" stroke-width="0.3">0</text>
<line x1="36.90" y1="778.87" x2="38.50" y2="778.87" stroke="#666" stroke-width="0.7" />
<line x1="36.90" y1="752.81" x2="38.50" y2="752.81" stroke="#666" stroke-width="0.7" />
<line x1="36.90" y1="726.75" x2="38.50" y2="726.75" stroke="#666" stroke-width="0.7" />
<line x1="36.90" y1="700.69" x2="38.50" y2="700.69" stroke="#666" stroke-width="0.7" />
<line x1="36.90" y1="674.63" x2="38.50" y2="674.63" stroke="#666" stroke-width="0.7" />
<line x1="54.10" y1="749.10" x2="54.10" y2="759.50" stroke="#444" stroke-width="0.9" />
<line x1="51.75" y1="749.10" x2="56.45" y2="749.10" stroke="#444" stroke-width="0.9" />
<rect x="48.10" y="759.50" width="12.00" height="32.40" fill="#fff" stroke="#1a1a1a" stroke-width="0.9"/>
<line x1="66.10" y1="680.40" x2="66.10" y2="695.50" stroke="#444" stroke-width="0.9" />
<line x1="63.75" y1="680.40" x2="68.45" y2="680.40" stroke="#444" stroke-width="0.9" />
<rect x="60.10" y="695.50" width="12.00" height="96.40" fill="#111" stroke="#1a1a1a" stroke-width="0.9"/>
<line x1="78.10" y1="691.70" x2="78.10" y2="706.40" stroke="#444" stroke-width="0.9" />
<line x1="75.75" y1="691.70" x2="80.45" y2="691.70" stroke="#444" stroke-width="0.9" />
<rect x="72.10" y="706.40" width="12.00" height="85.50" fill="#d6d6d6" stroke="#1a1a1a" stroke-width="0.9"/>
<line x1="90.10" y1="753.50" x2="90.10" y2="761.20" stroke="#444" stroke-width="0.9" />
<line x1="87.75" y1="753.50" x2="92.45" y2="753.50" stroke="#444" stroke-width="0.9" />
<rect x="84.10" y="761.20" width="12.00" height="30.70" fill="url(#baxP)" stroke="#1a1a1a" stroke-width="0.9"/>
<line x1="124.65" y1="777.30" x2="124.65" y2="780.80" stroke="#444" stroke-width="0.9" />
<line x1="122.30" y1="777.30" x2="127.00" y2="777.30" stroke="#444" stroke-width="0.9" />
<rect x="118.65" y="780.80" width="12.00" height="11.10" fill="#fff" stroke="#1a1a1a" stroke-width="0.9"/>
<line x1="136.65" y1="752.40" x2="136.65" y2="758.20" stroke="#444" stroke-width="0.9" />
<line x1="134.30" y1="752.40" x2="139.00" y2="752.40" stroke="#444" stroke-width="0.9" />
<rect x="130.65" y="758.20" width="12.00" height="33.70" fill="#111" stroke="#1a1a1a" stroke-width="0.9"/>
<line x1="148.65" y1="757.60" x2="148.65" y2="769.80" stroke="#444" stroke-width="0.9" />
<line x1="146.30" y1="757.60" x2="151.00" y2="757.60" stroke="#444" stroke-width="0.9" />
<rect x="142.65" y="769.80" width="12.00" height="22.10" fill="#d6d6d6" stroke="#1a1a1a" stroke-width="0.9"/>
<line x1="160.65" y1="778.90" x2="160.65" y2="782.30" stroke="#444" stroke-width="0.9" />
<line x1="158.30" y1="778.90" x2="163.00" y2="778.90" stroke="#444" stroke-width="0.9" />
<rect x="154.65" y="782.30" width="12.00" height="9.60" fill="url(#baxP)" stroke="#1a1a1a" stroke-width="0.9"/>
<line x1="195.20" y1="767.20" x2="195.20" y2="775.50" stroke="#444" stroke-width="0.9" />
<line x1="192.85" y1="767.20" x2="197.55" y2="767.20" stroke="#444" stroke-width="0.9" />
<rect x="189.20" y="775.50" width="12.00" height="16.40" fill="#fff" stroke="#1a1a1a" stroke-width="0.9"/>
<line x1="207.20" y1="677.30" x2="207.20" y2="697.20" stroke="#444" stroke-width="0.9" />
<line x1="204.85" y1="677.30" x2="209.55" y2="677.30" stroke="#444" stroke-width="0.9" />
<rect x="201.20" y="697.20" width="12.00" height="94.70" fill="#111" stroke="#1a1a1a" stroke-width="0.9"/>
<line x1="219.20" y1="727.60" x2="219.20" y2="737.40" stroke="#444" stroke-width="0.9" />
<line x1="216.85" y1="727.60" x2="221.55" y2="727.60" stroke="#444" stroke-width="0.9" />
<rect x="213.20" y="737.40" width="12.00" height="54.50" fill="#d6d6d6" stroke="#1a1a1a" stroke-width="0.9"/>
<line x1="231.20" y1="764.90" x2="231.20" y2="771.60" stroke="#444" stroke-width="0.9" />
<line x1="228.85" y1="764.90" x2="233.55" y2="764.90" stroke="#444" stroke-width="0.9" />
<rect x="225.20" y="771.60" width="12.00" height="20.30" fill="url(#baxP)" stroke="#1a1a1a" stroke-width="0.9"/>
<rect x="36.90" y="661.60" width="211.40" height="130.30" fill="none" stroke="#4a4a4a" stroke-width="1.0"/>
<text transform="translate(48.93,807.50) scale(1.040,1)" font-size="10.0" font-weight="bold" font-style="normal" fill="#111" stroke="#111" stroke-width="0.3">untreated</text>
<text transform="translate(131.28,807.50) scale(1.040,1)" font-size="10.0" font-weight="bold" font-style="normal" fill="#111" stroke="#111" stroke-width="0.3">FasL</text>
<text transform="translate(201.29,807.50) scale(1.040,1)" font-size="10.0" font-weight="bold" font-style="normal" fill="#111" stroke="#111" stroke-width="0.3">VP-16</text>
<text transform="translate(14.02,752.48) rotate(-90) scale(1.170,1)" font-size="9.0" font-weight="bold" fill="#111" stroke="#111" stroke-width="0.3">survival (%)</text>
<text transform="translate(221.14,677.80)" font-size="12.2" font-weight="bold" font-style="normal" fill="#111" stroke="#111" stroke-width="0.3">16h</text>
<rect x="98.20" y="668.65" width="7.90" height="7.90" fill="#fff" stroke="#111" stroke-width="0.9"/>
<text transform="translate(111.00,675.30) scale(1.140,1)" font-size="11.0" font-weight="bold" font-style="italic" fill="#111" stroke="#111" stroke-width="0.3">wt</text>
<rect x="98.20" y="682.55" width="7.90" height="7.90" fill="#111" stroke="#111" stroke-width="0.9"/>
<text transform="translate(110.92,689.20) scale(1.140,1)" font-size="11.0" font-weight="bold" font-style="italic" fill="#111" stroke="#111" stroke-width="0.3">vav-bcl-2</text>
<rect x="98.20" y="696.25" width="7.90" height="7.90" fill="#d6d6d6" stroke="#111" stroke-width="0.9"/>
<text transform="translate(111.37,703.00) scale(1.140,1)" font-size="11.0" font-weight="bold" font-style="italic" fill="#111" stroke="#111" stroke-width="0.3">bim-/-</text>
<rect x="98.20" y="710.25" width="7.90" height="7.90" fill="url(#baxP)" stroke="#111" stroke-width="0.9"/>
<text transform="translate(111.37,716.80) scale(1.140,1)" font-size="11.0" font-weight="bold" font-style="italic" fill="#111" stroke="#111" stroke-width="0.3">bax-/-</text>
<line x1="298.10" y1="680.30" x2="300.30" y2="680.30" stroke="#333" stroke-width="1.0" />
<text transform="translate(285.38,682.56) scale(1.030,1)" font-size="9.8" font-weight="bold" font-style="normal" fill="#111" stroke="#111" stroke-width="0.3">30</text>
<line x1="298.10" y1="717.20" x2="300.30" y2="717.20" stroke="#333" stroke-width="1.0" />
<text transform="translate(285.38,720.17) scale(1.030,1)" font-size="9.8" font-weight="bold" font-style="normal" fill="#111" stroke="#111" stroke-width="0.3">20</text>
<line x1="298.10" y1="754.10" x2="300.30" y2="754.10" stroke="#333" stroke-width="1.0" />
<text transform="translate(285.38,757.07) scale(1.030,1)" font-size="9.8" font-weight="bold" font-style="normal" fill="#111" stroke="#111" stroke-width="0.3">10</text>
<line x1="298.10" y1="791.00" x2="300.30" y2="791.00" stroke="#333" stroke-width="1.0" />
<text transform="translate(290.99,793.87) scale(1.030,1)" font-size="9.8" font-weight="bold" font-style="normal" fill="#111" stroke="#111" stroke-width="0.3">0</text>
<line x1="300.30" y1="772.55" x2="301.90" y2="772.55" stroke="#666" stroke-width="0.7" />
<line x1="300.30" y1="735.65" x2="301.90" y2="735.65" stroke="#666" stroke-width="0.7" />
<line x1="300.30" y1="698.75" x2="301.90" y2="698.75" stroke="#666" stroke-width="0.7" />
<line x1="318.05" y1="676.25" x2="318.05" y2="696.25" stroke="#444" stroke-width="0.9" />
<line x1="315.70" y1="676.25" x2="320.40" y2="676.25" stroke="#444" stroke-width="0.9" />
<rect x="312.00" y="696.25" width="12.10" height="94.75" fill="#fff" stroke="#1a1a1a" stroke-width="0.9"/>
<line x1="330.15" y1="697.50" x2="330.15" y2="702.50" stroke="#444" stroke-width="0.9" />
<line x1="327.80" y1="697.50" x2="332.50" y2="697.50" stroke="#444" stroke-width="0.9" />
<rect x="324.10" y="702.50" width="12.10" height="88.50" fill="url(#bcl2P)" stroke="#1a1a1a" stroke-width="0.9"/>
<line x1="342.25" y1="703.00" x2="342.25" y2="713.75" stroke="#444" stroke-width="0.9" />
<line x1="339.90" y1="703.00" x2="344.60" y2="703.00" stroke="#444" stroke-width="0.9" />
<rect x="336.20" y="713.75" width="12.10" height="77.25" fill="url(#bclwP)" stroke="#1a1a1a" stroke-width="0.9"/>
<line x1="354.35" y1="692.50" x2="354.35" y2="710.00" stroke="#444" stroke-width="0.9" />
<line x1="352.00" y1="692.50" x2="356.70" y2="692.50" stroke="#444" stroke-width="0.9" />
<rect x="348.30" y="710.00" width="12.10" height="81.00" fill="url(#lprP)" stroke="#1a1a1a" stroke-width="0.9"/>
<line x1="388.25" y1="748.75" x2="388.25" y2="758.00" stroke="#444" stroke-width="0.9" />
<line x1="385.90" y1="748.75" x2="390.60" y2="748.75" stroke="#444" stroke-width="0.9" />
<rect x="382.20" y="758.00" width="12.10" height="33.00" fill="#fff" stroke="#1a1a1a" stroke-width="0.9"/>
<line x1="400.35" y1="769.50" x2="400.35" y2="772.00" stroke="#444" stroke-width="0.9" />
<line x1="398.00" y1="769.50" x2="402.70" y2="769.50" stroke="#444" stroke-width="0.9" />
<rect x="394.30" y="772.00" width="12.10" height="19.00" fill="url(#bcl2P)" stroke="#1a1a1a" stroke-width="0.9"/>
<line x1="412.45" y1="768.25" x2="412.45" y2="772.00" stroke="#444" stroke-width="0.9" />
<line x1="410.10" y1="768.25" x2="414.80" y2="768.25" stroke="#444" stroke-width="0.9" />
<rect x="406.40" y="772.00" width="12.10" height="19.00" fill="url(#bclwP)" stroke="#1a1a1a" stroke-width="0.9"/>
<line x1="424.55" y1="693.75" x2="424.55" y2="702.00" stroke="#444" stroke-width="0.9" />
<line x1="422.20" y1="693.75" x2="426.90" y2="693.75" stroke="#444" stroke-width="0.9" />
<rect x="418.50" y="702.00" width="12.10" height="89.00" fill="url(#lprP)" stroke="#1a1a1a" stroke-width="0.9"/>
<line x1="458.45" y1="725.50" x2="458.45" y2="743.75" stroke="#444" stroke-width="0.9" />
<line x1="456.10" y1="725.50" x2="460.80" y2="725.50" stroke="#444" stroke-width="0.9" />
<rect x="452.40" y="743.75" width="12.10" height="47.25" fill="#fff" stroke="#1a1a1a" stroke-width="0.9"/>
<line x1="470.55" y1="739.25" x2="470.55" y2="749.50" stroke="#444" stroke-width="0.9" />
<line x1="468.20" y1="739.25" x2="472.90" y2="739.25" stroke="#444" stroke-width="0.9" />
<rect x="464.50" y="749.50" width="12.10" height="41.50" fill="url(#bcl2P)" stroke="#1a1a1a" stroke-width="0.9"/>
<line x1="482.65" y1="737.00" x2="482.65" y2="745.50" stroke="#444" stroke-width="0.9" />
<line x1="480.30" y1="737.00" x2="485.00" y2="737.00" stroke="#444" stroke-width="0.9" />
<rect x="476.60" y="745.50" width="12.10" height="45.50" fill="url(#bclwP)" stroke="#1a1a1a" stroke-width="0.9"/>
<line x1="494.75" y1="736.75" x2="494.75" y2="744.25" stroke="#444" stroke-width="0.9" />
<line x1="492.40" y1="736.75" x2="497.10" y2="736.75" stroke="#444" stroke-width="0.9" />
<rect x="488.70" y="744.25" width="12.10" height="46.75" fill="url(#lprP)" stroke="#1a1a1a" stroke-width="0.9"/>
<rect x="300.30" y="660.40" width="211.60" height="130.60" fill="none" stroke="#4a4a4a" stroke-width="1.0"/>
<text transform="translate(309.83,805.40) scale(1.040,1)" font-size="10.0" font-weight="bold" font-style="normal" fill="#111" stroke="#111" stroke-width="0.3">untreated</text>
<text transform="translate(393.08,805.40) scale(1.040,1)" font-size="10.0" font-weight="bold" font-style="normal" fill="#111" stroke="#111" stroke-width="0.3">FasL</text>
<text transform="translate(463.79,805.40) scale(1.040,1)" font-size="10.0" font-weight="bold" font-style="normal" fill="#111" stroke="#111" stroke-width="0.3">VP-16</text>
<text transform="translate(277.32,750.48) rotate(-90) scale(1.170,1)" font-size="9.0" font-weight="bold" fill="#111" stroke="#111" stroke-width="0.3">survival (%)</text>
<text transform="translate(486.34,675.60)" font-size="12.3" font-weight="bold" font-style="normal" fill="#111" stroke="#111" stroke-width="0.3">16h</text>
<rect x="367.90" y="667.20" width="7.80" height="7.80" fill="#fff" stroke="#111" stroke-width="0.9"/>
<text transform="translate(379.42,674.30) scale(1.140,1)" font-size="10.6" font-weight="bold" font-style="italic" fill="#111" stroke="#111" stroke-width="0.3">wt</text>
<rect x="367.90" y="681.20" width="7.80" height="7.80" fill="url(#bcl2P)" stroke="#111" stroke-width="0.9"/>
<text transform="translate(379.78,688.10) scale(1.140,1)" font-size="10.6" font-weight="bold" font-style="italic" fill="#111" stroke="#111" stroke-width="0.3">bcl-2-/-</text>
<rect x="367.90" y="694.40" width="7.80" height="7.80" fill="url(#bclwP)" stroke="#111" stroke-width="0.9"/>
<text transform="translate(379.78,701.10) scale(1.140,1)" font-size="10.6" font-weight="bold" font-style="italic" fill="#111" stroke="#111" stroke-width="0.3">bcl-w-/-</text>
<rect x="367.90" y="707.60" width="7.80" height="7.80" fill="url(#lprP)" stroke="#111" stroke-width="0.9"/>
<text transform="translate(379.78,713.60) scale(1.140,1)" font-size="10.6" font-weight="bold" font-style="italic" fill="#111" stroke="#111" stroke-width="0.3">lpr</text>
</svg>
</body></html>
